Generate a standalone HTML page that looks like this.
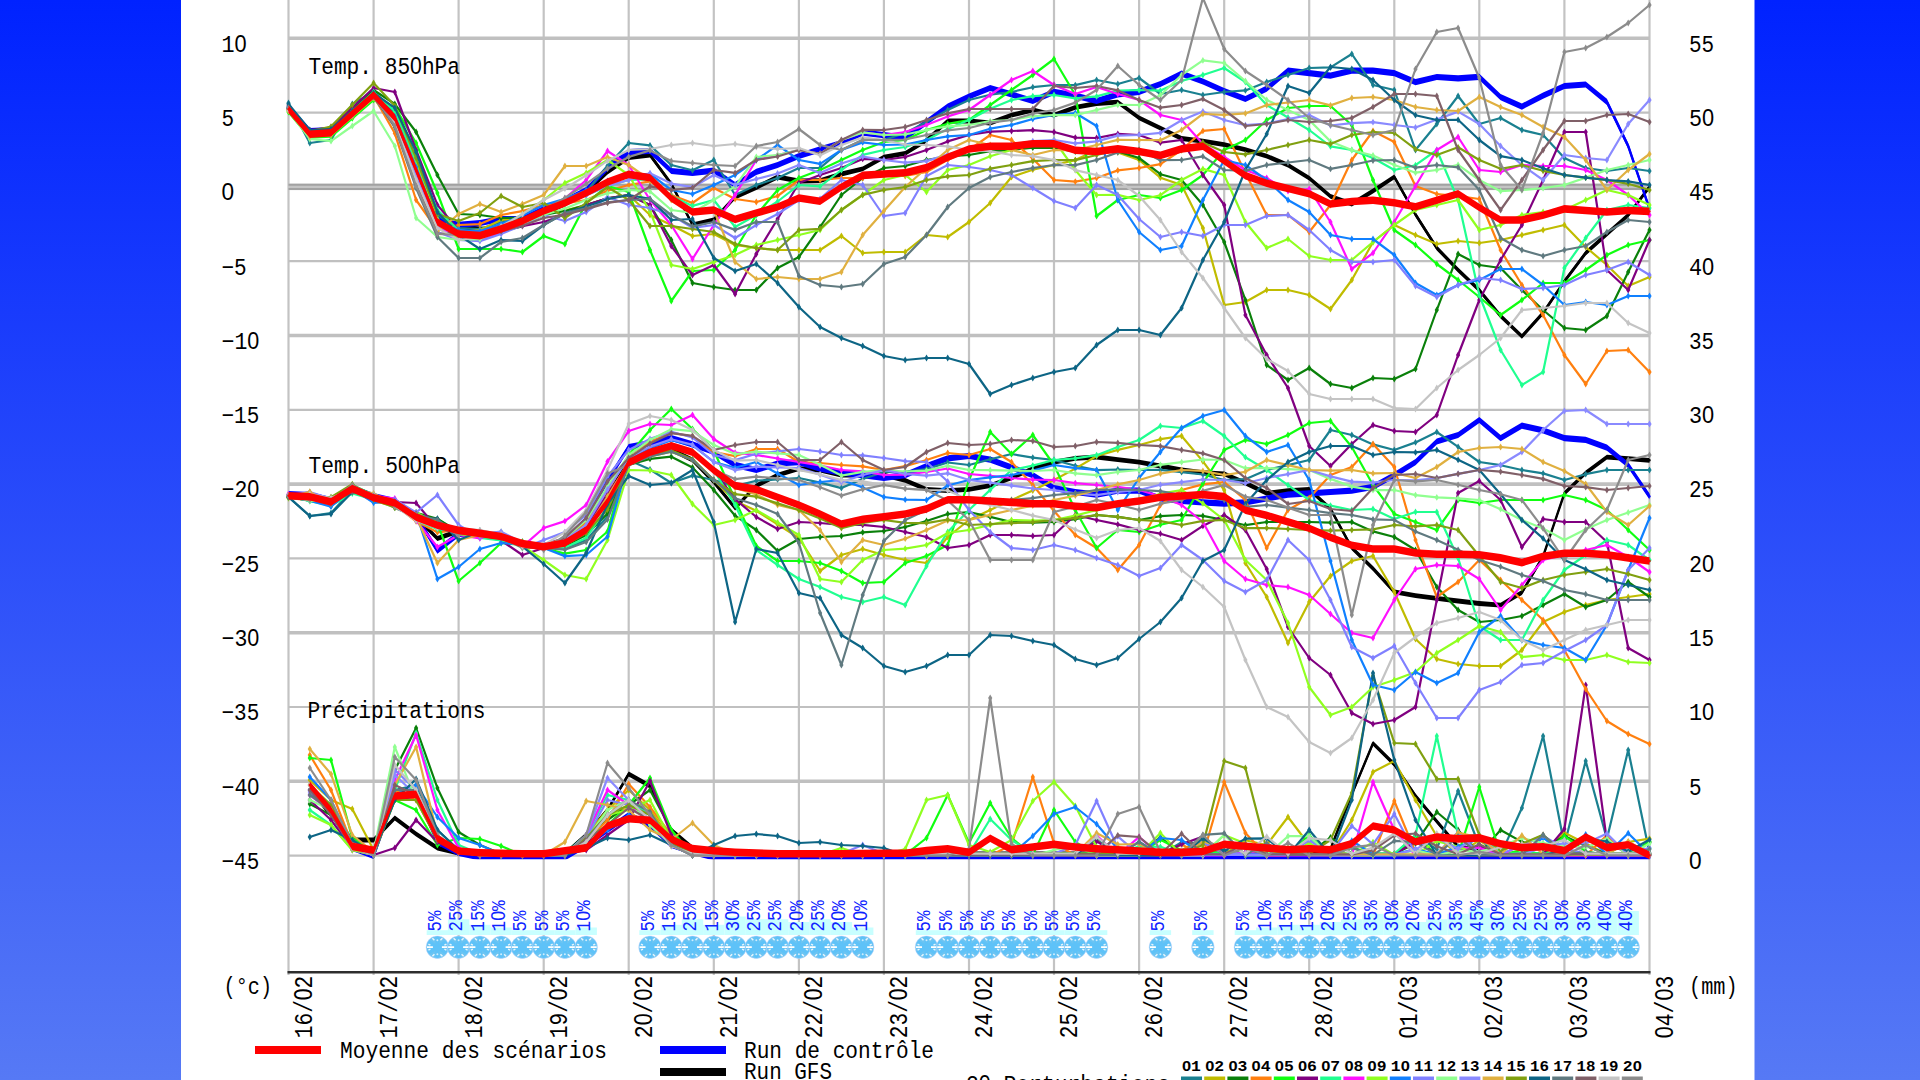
<!DOCTYPE html><html><head><meta charset="utf-8"><title>GFS ensemble</title><style>html,body{margin:0;padding:0;width:1920px;height:1080px;overflow:hidden;background:#2b4dfa}svg{position:absolute;left:0;top:0;display:block}text{font-family:'Liberation Mono','DejaVu Sans Mono',monospace;stroke:none}</style></head><body><svg width="1920" height="1080" viewBox="0 0 1920 1080"><defs><linearGradient id="bg" x1="0" y1="0" x2="0" y2="1"><stop offset="0" stop-color="#0022ff"/><stop offset="1" stop-color="#5679f5"/></linearGradient></defs><rect width="1920" height="1080" fill="url(#bg)"/><rect x="181" y="0" width="1573.5" height="1080" fill="#fff"/><g><line x1="288.5" y1="0" x2="288.5" y2="975" stroke="#c3c3c3" stroke-width="2.2"/><line x1="373.6" y1="0" x2="373.6" y2="975" stroke="#c3c3c3" stroke-width="2.2"/><line x1="458.6" y1="0" x2="458.6" y2="975" stroke="#c3c3c3" stroke-width="2.2"/><line x1="543.7" y1="0" x2="543.7" y2="975" stroke="#c3c3c3" stroke-width="2.2"/><line x1="628.7" y1="0" x2="628.7" y2="975" stroke="#c3c3c3" stroke-width="2.2"/><line x1="713.8" y1="0" x2="713.8" y2="975" stroke="#c3c3c3" stroke-width="2.2"/><line x1="798.9" y1="0" x2="798.9" y2="975" stroke="#c3c3c3" stroke-width="2.2"/><line x1="883.9" y1="0" x2="883.9" y2="975" stroke="#c3c3c3" stroke-width="2.2"/><line x1="969.0" y1="0" x2="969.0" y2="975" stroke="#c3c3c3" stroke-width="2.2"/><line x1="1054.0" y1="0" x2="1054.0" y2="975" stroke="#c3c3c3" stroke-width="2.2"/><line x1="1139.1" y1="0" x2="1139.1" y2="975" stroke="#c3c3c3" stroke-width="2.2"/><line x1="1224.2" y1="0" x2="1224.2" y2="975" stroke="#c3c3c3" stroke-width="2.2"/><line x1="1309.2" y1="0" x2="1309.2" y2="975" stroke="#c3c3c3" stroke-width="2.2"/><line x1="1394.3" y1="0" x2="1394.3" y2="975" stroke="#c3c3c3" stroke-width="2.2"/><line x1="1479.3" y1="0" x2="1479.3" y2="975" stroke="#c3c3c3" stroke-width="2.2"/><line x1="1564.4" y1="0" x2="1564.4" y2="975" stroke="#c3c3c3" stroke-width="2.2"/><line x1="1649.5" y1="0" x2="1649.5" y2="975" stroke="#c3c3c3" stroke-width="2.2"/><line x1="288.5" y1="38.3" x2="1649.5" y2="38.3" stroke="#c0c0c0" stroke-width="3.6"/><line x1="288.5" y1="112.6" x2="1649.5" y2="112.6" stroke="#c0c0c0" stroke-width="2.2"/><rect x="288.5" y="183.7" width="1361.0" height="6.4" fill="#c4c4c4"/><line x1="288.5" y1="184.8" x2="1649.5" y2="184.8" stroke="#a2a2a2" stroke-width="2"/><line x1="288.5" y1="189.0" x2="1649.5" y2="189.0" stroke="#a2a2a2" stroke-width="2"/><line x1="288.5" y1="261.2" x2="1649.5" y2="261.2" stroke="#c0c0c0" stroke-width="2.2"/><line x1="288.5" y1="335.5" x2="1649.5" y2="335.5" stroke="#c0c0c0" stroke-width="3.6"/><line x1="288.5" y1="409.8" x2="1649.5" y2="409.8" stroke="#c0c0c0" stroke-width="2.2"/><line x1="288.5" y1="484.1" x2="1649.5" y2="484.1" stroke="#c0c0c0" stroke-width="3.6"/><line x1="288.5" y1="558.4" x2="1649.5" y2="558.4" stroke="#c0c0c0" stroke-width="2.2"/><line x1="288.5" y1="632.7" x2="1649.5" y2="632.7" stroke="#c0c0c0" stroke-width="3.6"/><line x1="288.5" y1="707.0" x2="1649.5" y2="707.0" stroke="#c0c0c0" stroke-width="2.2"/><line x1="288.5" y1="781.3" x2="1649.5" y2="781.3" stroke="#c0c0c0" stroke-width="3.6"/><line x1="288.5" y1="855.6" x2="1649.5" y2="855.6" stroke="#c0c0c0" stroke-width="2.2"/></g><line x1="287.5" y1="972.3" x2="1650.5" y2="972.3" stroke="#2e2e2e" stroke-width="2.4"/><g><defs><g id="flk"><circle r="11.3" fill="#6cc4f2"/><path d="M0-11V11M-9.5-5.5L9.5 5.5M-9.5 5.5L9.5-5.5" stroke="#5ec2f8" stroke-width="4"/><path d="M-10.5 0H-4.5M4.5 0H10.5" stroke="#fff" stroke-width="1.8"/><path d="M-5-9l2 2M5-9l-2 2M-5 9l2-2M5 9l-2-2M-9-3l2 1M9-3l-2 1M-9 3l2-1M9 3l-2-1" stroke="#fff" stroke-width="1.5" opacity="0.85"/><circle cx="0" cy="-7" r="1" fill="#fff" opacity="0.7"/><circle cx="0" cy="7" r="1" fill="#fff" opacity="0.7"/><circle r="11.3" fill="none" stroke="#c8d8ff" stroke-width="0.8" opacity="0.6"/></g></defs><rect x="426.7" y="930.2" width="21.4" height="4.8" fill="#c8ffff"/><rect x="447.9" y="919.2" width="21.4" height="15.8" fill="#c8ffff"/><rect x="469.2" y="924.8" width="21.4" height="10.2" fill="#c8ffff"/><rect x="490.4" y="927.5" width="21.4" height="7.5" fill="#c8ffff"/><rect x="511.7" y="930.2" width="21.4" height="4.8" fill="#c8ffff"/><rect x="533.0" y="930.2" width="21.4" height="4.8" fill="#c8ffff"/><rect x="554.2" y="930.2" width="21.4" height="4.8" fill="#c8ffff"/><rect x="575.5" y="927.5" width="21.4" height="7.5" fill="#c8ffff"/><rect x="639.3" y="930.2" width="21.4" height="4.8" fill="#c8ffff"/><rect x="660.6" y="924.8" width="21.4" height="10.2" fill="#c8ffff"/><rect x="681.8" y="919.2" width="21.4" height="15.8" fill="#c8ffff"/><rect x="703.1" y="924.8" width="21.4" height="10.2" fill="#c8ffff"/><rect x="724.4" y="916.5" width="21.4" height="18.5" fill="#c8ffff"/><rect x="745.6" y="919.2" width="21.4" height="15.8" fill="#c8ffff"/><rect x="766.9" y="919.2" width="21.4" height="15.8" fill="#c8ffff"/><rect x="788.2" y="922.0" width="21.4" height="13.0" fill="#c8ffff"/><rect x="809.4" y="919.2" width="21.4" height="15.8" fill="#c8ffff"/><rect x="830.7" y="922.0" width="21.4" height="13.0" fill="#c8ffff"/><rect x="852.0" y="927.5" width="21.4" height="7.5" fill="#c8ffff"/><rect x="915.8" y="930.2" width="21.4" height="4.8" fill="#c8ffff"/><rect x="937.0" y="930.2" width="21.4" height="4.8" fill="#c8ffff"/><rect x="958.3" y="930.2" width="21.4" height="4.8" fill="#c8ffff"/><rect x="979.5" y="930.2" width="21.4" height="4.8" fill="#c8ffff"/><rect x="1000.8" y="930.2" width="21.4" height="4.8" fill="#c8ffff"/><rect x="1022.1" y="930.2" width="21.4" height="4.8" fill="#c8ffff"/><rect x="1043.3" y="930.2" width="21.4" height="4.8" fill="#c8ffff"/><rect x="1064.6" y="930.2" width="21.4" height="4.8" fill="#c8ffff"/><rect x="1085.9" y="930.2" width="21.4" height="4.8" fill="#c8ffff"/><rect x="1149.7" y="930.2" width="21.4" height="4.8" fill="#c8ffff"/><rect x="1192.2" y="930.2" width="21.4" height="4.8" fill="#c8ffff"/><rect x="1234.7" y="930.2" width="21.4" height="4.8" fill="#c8ffff"/><rect x="1256.0" y="927.5" width="21.4" height="7.5" fill="#c8ffff"/><rect x="1277.3" y="924.8" width="21.4" height="10.2" fill="#c8ffff"/><rect x="1298.5" y="924.8" width="21.4" height="10.2" fill="#c8ffff"/><rect x="1319.8" y="922.0" width="21.4" height="13.0" fill="#c8ffff"/><rect x="1341.0" y="919.2" width="21.4" height="15.8" fill="#c8ffff"/><rect x="1362.3" y="913.8" width="21.4" height="21.2" fill="#c8ffff"/><rect x="1383.6" y="916.5" width="21.4" height="18.5" fill="#c8ffff"/><rect x="1404.8" y="922.0" width="21.4" height="13.0" fill="#c8ffff"/><rect x="1426.1" y="919.2" width="21.4" height="15.8" fill="#c8ffff"/><rect x="1447.4" y="913.8" width="21.4" height="21.2" fill="#c8ffff"/><rect x="1468.6" y="908.2" width="21.4" height="26.8" fill="#c8ffff"/><rect x="1489.9" y="916.5" width="21.4" height="18.5" fill="#c8ffff"/><rect x="1511.2" y="919.2" width="21.4" height="15.8" fill="#c8ffff"/><rect x="1532.4" y="919.2" width="21.4" height="15.8" fill="#c8ffff"/><rect x="1553.7" y="916.5" width="21.4" height="18.5" fill="#c8ffff"/><rect x="1575.0" y="916.5" width="21.4" height="18.5" fill="#c8ffff"/><rect x="1596.2" y="911.0" width="21.4" height="24.0" fill="#c8ffff"/><rect x="1617.5" y="911.0" width="21.4" height="24.0" fill="#c8ffff"/><use href="#flk" x="437.4" y="947.2"/><use href="#flk" x="458.6" y="947.2"/><use href="#flk" x="479.9" y="947.2"/><use href="#flk" x="501.1" y="947.2"/><use href="#flk" x="522.4" y="947.2"/><use href="#flk" x="543.7" y="947.2"/><use href="#flk" x="564.9" y="947.2"/><use href="#flk" x="586.2" y="947.2"/><use href="#flk" x="650.0" y="947.2"/><use href="#flk" x="671.3" y="947.2"/><use href="#flk" x="692.5" y="947.2"/><use href="#flk" x="713.8" y="947.2"/><use href="#flk" x="735.1" y="947.2"/><use href="#flk" x="756.3" y="947.2"/><use href="#flk" x="777.6" y="947.2"/><use href="#flk" x="798.9" y="947.2"/><use href="#flk" x="820.1" y="947.2"/><use href="#flk" x="841.4" y="947.2"/><use href="#flk" x="862.7" y="947.2"/><use href="#flk" x="926.5" y="947.2"/><use href="#flk" x="947.7" y="947.2"/><use href="#flk" x="969.0" y="947.2"/><use href="#flk" x="990.2" y="947.2"/><use href="#flk" x="1011.5" y="947.2"/><use href="#flk" x="1032.8" y="947.2"/><use href="#flk" x="1054.0" y="947.2"/><use href="#flk" x="1075.3" y="947.2"/><use href="#flk" x="1096.6" y="947.2"/><use href="#flk" x="1160.4" y="947.2"/><use href="#flk" x="1202.9" y="947.2"/><use href="#flk" x="1245.4" y="947.2"/><use href="#flk" x="1266.7" y="947.2"/><use href="#flk" x="1288.0" y="947.2"/><use href="#flk" x="1309.2" y="947.2"/><use href="#flk" x="1330.5" y="947.2"/><use href="#flk" x="1351.8" y="947.2"/><use href="#flk" x="1373.0" y="947.2"/><use href="#flk" x="1394.3" y="947.2"/><use href="#flk" x="1415.5" y="947.2"/><use href="#flk" x="1436.8" y="947.2"/><use href="#flk" x="1458.1" y="947.2"/><use href="#flk" x="1479.3" y="947.2"/><use href="#flk" x="1500.6" y="947.2"/><use href="#flk" x="1521.9" y="947.2"/><use href="#flk" x="1543.1" y="947.2"/><use href="#flk" x="1564.4" y="947.2"/><use href="#flk" x="1585.7" y="947.2"/><use href="#flk" x="1606.9" y="947.2"/><use href="#flk" x="1628.2" y="947.2"/><text transform="translate(441.2,931.5) rotate(-90)" font-size="20" font-weight="normal" fill="#0f24ff" stroke="#0f24ff" stroke-width="0.5" textLength="20.8" lengthAdjust="spacingAndGlyphs">5%</text><text transform="translate(462.4,931.5) rotate(-90)" font-size="20" font-weight="normal" fill="#0f24ff" stroke="#0f24ff" stroke-width="0.5" textLength="31.2" lengthAdjust="spacingAndGlyphs">25%</text><text transform="translate(483.7,931.5) rotate(-90)" font-size="20" font-weight="normal" fill="#0f24ff" stroke="#0f24ff" stroke-width="0.5" textLength="31.2" lengthAdjust="spacingAndGlyphs">15%</text><text transform="translate(504.9,931.5) rotate(-90)" font-size="20" font-weight="normal" fill="#0f24ff" stroke="#0f24ff" stroke-width="0.5" textLength="31.2" lengthAdjust="spacingAndGlyphs">1<tspan font-family="Liberation Sans">0</tspan>%</text><text transform="translate(526.2,931.5) rotate(-90)" font-size="20" font-weight="normal" fill="#0f24ff" stroke="#0f24ff" stroke-width="0.5" textLength="20.8" lengthAdjust="spacingAndGlyphs">5%</text><text transform="translate(547.5,931.5) rotate(-90)" font-size="20" font-weight="normal" fill="#0f24ff" stroke="#0f24ff" stroke-width="0.5" textLength="20.8" lengthAdjust="spacingAndGlyphs">5%</text><text transform="translate(568.7,931.5) rotate(-90)" font-size="20" font-weight="normal" fill="#0f24ff" stroke="#0f24ff" stroke-width="0.5" textLength="20.8" lengthAdjust="spacingAndGlyphs">5%</text><text transform="translate(590.0,931.5) rotate(-90)" font-size="20" font-weight="normal" fill="#0f24ff" stroke="#0f24ff" stroke-width="0.5" textLength="31.2" lengthAdjust="spacingAndGlyphs">1<tspan font-family="Liberation Sans">0</tspan>%</text><text transform="translate(653.8,931.5) rotate(-90)" font-size="20" font-weight="normal" fill="#0f24ff" stroke="#0f24ff" stroke-width="0.5" textLength="20.8" lengthAdjust="spacingAndGlyphs">5%</text><text transform="translate(675.1,931.5) rotate(-90)" font-size="20" font-weight="normal" fill="#0f24ff" stroke="#0f24ff" stroke-width="0.5" textLength="31.2" lengthAdjust="spacingAndGlyphs">15%</text><text transform="translate(696.3,931.5) rotate(-90)" font-size="20" font-weight="normal" fill="#0f24ff" stroke="#0f24ff" stroke-width="0.5" textLength="31.2" lengthAdjust="spacingAndGlyphs">25%</text><text transform="translate(717.6,931.5) rotate(-90)" font-size="20" font-weight="normal" fill="#0f24ff" stroke="#0f24ff" stroke-width="0.5" textLength="31.2" lengthAdjust="spacingAndGlyphs">15%</text><text transform="translate(738.9,931.5) rotate(-90)" font-size="20" font-weight="normal" fill="#0f24ff" stroke="#0f24ff" stroke-width="0.5" textLength="31.2" lengthAdjust="spacingAndGlyphs">3<tspan font-family="Liberation Sans">0</tspan>%</text><text transform="translate(760.1,931.5) rotate(-90)" font-size="20" font-weight="normal" fill="#0f24ff" stroke="#0f24ff" stroke-width="0.5" textLength="31.2" lengthAdjust="spacingAndGlyphs">25%</text><text transform="translate(781.4,931.5) rotate(-90)" font-size="20" font-weight="normal" fill="#0f24ff" stroke="#0f24ff" stroke-width="0.5" textLength="31.2" lengthAdjust="spacingAndGlyphs">25%</text><text transform="translate(802.7,931.5) rotate(-90)" font-size="20" font-weight="normal" fill="#0f24ff" stroke="#0f24ff" stroke-width="0.5" textLength="31.2" lengthAdjust="spacingAndGlyphs">2<tspan font-family="Liberation Sans">0</tspan>%</text><text transform="translate(823.9,931.5) rotate(-90)" font-size="20" font-weight="normal" fill="#0f24ff" stroke="#0f24ff" stroke-width="0.5" textLength="31.2" lengthAdjust="spacingAndGlyphs">25%</text><text transform="translate(845.2,931.5) rotate(-90)" font-size="20" font-weight="normal" fill="#0f24ff" stroke="#0f24ff" stroke-width="0.5" textLength="31.2" lengthAdjust="spacingAndGlyphs">2<tspan font-family="Liberation Sans">0</tspan>%</text><text transform="translate(866.5,931.5) rotate(-90)" font-size="20" font-weight="normal" fill="#0f24ff" stroke="#0f24ff" stroke-width="0.5" textLength="31.2" lengthAdjust="spacingAndGlyphs">1<tspan font-family="Liberation Sans">0</tspan>%</text><text transform="translate(930.2,931.5) rotate(-90)" font-size="20" font-weight="normal" fill="#0f24ff" stroke="#0f24ff" stroke-width="0.5" textLength="20.8" lengthAdjust="spacingAndGlyphs">5%</text><text transform="translate(951.5,931.5) rotate(-90)" font-size="20" font-weight="normal" fill="#0f24ff" stroke="#0f24ff" stroke-width="0.5" textLength="20.8" lengthAdjust="spacingAndGlyphs">5%</text><text transform="translate(972.8,931.5) rotate(-90)" font-size="20" font-weight="normal" fill="#0f24ff" stroke="#0f24ff" stroke-width="0.5" textLength="20.8" lengthAdjust="spacingAndGlyphs">5%</text><text transform="translate(994.0,931.5) rotate(-90)" font-size="20" font-weight="normal" fill="#0f24ff" stroke="#0f24ff" stroke-width="0.5" textLength="20.8" lengthAdjust="spacingAndGlyphs">5%</text><text transform="translate(1015.3,931.5) rotate(-90)" font-size="20" font-weight="normal" fill="#0f24ff" stroke="#0f24ff" stroke-width="0.5" textLength="20.8" lengthAdjust="spacingAndGlyphs">5%</text><text transform="translate(1036.6,931.5) rotate(-90)" font-size="20" font-weight="normal" fill="#0f24ff" stroke="#0f24ff" stroke-width="0.5" textLength="20.8" lengthAdjust="spacingAndGlyphs">5%</text><text transform="translate(1057.8,931.5) rotate(-90)" font-size="20" font-weight="normal" fill="#0f24ff" stroke="#0f24ff" stroke-width="0.5" textLength="20.8" lengthAdjust="spacingAndGlyphs">5%</text><text transform="translate(1079.1,931.5) rotate(-90)" font-size="20" font-weight="normal" fill="#0f24ff" stroke="#0f24ff" stroke-width="0.5" textLength="20.8" lengthAdjust="spacingAndGlyphs">5%</text><text transform="translate(1100.4,931.5) rotate(-90)" font-size="20" font-weight="normal" fill="#0f24ff" stroke="#0f24ff" stroke-width="0.5" textLength="20.8" lengthAdjust="spacingAndGlyphs">5%</text><text transform="translate(1164.2,931.5) rotate(-90)" font-size="20" font-weight="normal" fill="#0f24ff" stroke="#0f24ff" stroke-width="0.5" textLength="20.8" lengthAdjust="spacingAndGlyphs">5%</text><text transform="translate(1206.7,931.5) rotate(-90)" font-size="20" font-weight="normal" fill="#0f24ff" stroke="#0f24ff" stroke-width="0.5" textLength="20.8" lengthAdjust="spacingAndGlyphs">5%</text><text transform="translate(1249.2,931.5) rotate(-90)" font-size="20" font-weight="normal" fill="#0f24ff" stroke="#0f24ff" stroke-width="0.5" textLength="20.8" lengthAdjust="spacingAndGlyphs">5%</text><text transform="translate(1270.5,931.5) rotate(-90)" font-size="20" font-weight="normal" fill="#0f24ff" stroke="#0f24ff" stroke-width="0.5" textLength="31.2" lengthAdjust="spacingAndGlyphs">1<tspan font-family="Liberation Sans">0</tspan>%</text><text transform="translate(1291.8,931.5) rotate(-90)" font-size="20" font-weight="normal" fill="#0f24ff" stroke="#0f24ff" stroke-width="0.5" textLength="31.2" lengthAdjust="spacingAndGlyphs">15%</text><text transform="translate(1313.0,931.5) rotate(-90)" font-size="20" font-weight="normal" fill="#0f24ff" stroke="#0f24ff" stroke-width="0.5" textLength="31.2" lengthAdjust="spacingAndGlyphs">15%</text><text transform="translate(1334.3,931.5) rotate(-90)" font-size="20" font-weight="normal" fill="#0f24ff" stroke="#0f24ff" stroke-width="0.5" textLength="31.2" lengthAdjust="spacingAndGlyphs">2<tspan font-family="Liberation Sans">0</tspan>%</text><text transform="translate(1355.5,931.5) rotate(-90)" font-size="20" font-weight="normal" fill="#0f24ff" stroke="#0f24ff" stroke-width="0.5" textLength="31.2" lengthAdjust="spacingAndGlyphs">25%</text><text transform="translate(1376.8,931.5) rotate(-90)" font-size="20" font-weight="normal" fill="#0f24ff" stroke="#0f24ff" stroke-width="0.5" textLength="31.2" lengthAdjust="spacingAndGlyphs">35%</text><text transform="translate(1398.1,931.5) rotate(-90)" font-size="20" font-weight="normal" fill="#0f24ff" stroke="#0f24ff" stroke-width="0.5" textLength="31.2" lengthAdjust="spacingAndGlyphs">3<tspan font-family="Liberation Sans">0</tspan>%</text><text transform="translate(1419.3,931.5) rotate(-90)" font-size="20" font-weight="normal" fill="#0f24ff" stroke="#0f24ff" stroke-width="0.5" textLength="31.2" lengthAdjust="spacingAndGlyphs">2<tspan font-family="Liberation Sans">0</tspan>%</text><text transform="translate(1440.6,931.5) rotate(-90)" font-size="20" font-weight="normal" fill="#0f24ff" stroke="#0f24ff" stroke-width="0.5" textLength="31.2" lengthAdjust="spacingAndGlyphs">25%</text><text transform="translate(1461.9,931.5) rotate(-90)" font-size="20" font-weight="normal" fill="#0f24ff" stroke="#0f24ff" stroke-width="0.5" textLength="31.2" lengthAdjust="spacingAndGlyphs">35%</text><text transform="translate(1483.1,931.5) rotate(-90)" font-size="20" font-weight="normal" fill="#0f24ff" stroke="#0f24ff" stroke-width="0.5" textLength="31.2" lengthAdjust="spacingAndGlyphs">45%</text><text transform="translate(1504.4,931.5) rotate(-90)" font-size="20" font-weight="normal" fill="#0f24ff" stroke="#0f24ff" stroke-width="0.5" textLength="31.2" lengthAdjust="spacingAndGlyphs">3<tspan font-family="Liberation Sans">0</tspan>%</text><text transform="translate(1525.7,931.5) rotate(-90)" font-size="20" font-weight="normal" fill="#0f24ff" stroke="#0f24ff" stroke-width="0.5" textLength="31.2" lengthAdjust="spacingAndGlyphs">25%</text><text transform="translate(1546.9,931.5) rotate(-90)" font-size="20" font-weight="normal" fill="#0f24ff" stroke="#0f24ff" stroke-width="0.5" textLength="31.2" lengthAdjust="spacingAndGlyphs">25%</text><text transform="translate(1568.2,931.5) rotate(-90)" font-size="20" font-weight="normal" fill="#0f24ff" stroke="#0f24ff" stroke-width="0.5" textLength="31.2" lengthAdjust="spacingAndGlyphs">3<tspan font-family="Liberation Sans">0</tspan>%</text><text transform="translate(1589.5,931.5) rotate(-90)" font-size="20" font-weight="normal" fill="#0f24ff" stroke="#0f24ff" stroke-width="0.5" textLength="31.2" lengthAdjust="spacingAndGlyphs">3<tspan font-family="Liberation Sans">0</tspan>%</text><text transform="translate(1610.7,931.5) rotate(-90)" font-size="20" font-weight="normal" fill="#0f24ff" stroke="#0f24ff" stroke-width="0.5" textLength="31.2" lengthAdjust="spacingAndGlyphs">4<tspan font-family="Liberation Sans">0</tspan>%</text><text transform="translate(1632.0,931.5) rotate(-90)" font-size="20" font-weight="normal" fill="#0f24ff" stroke="#0f24ff" stroke-width="0.5" textLength="31.2" lengthAdjust="spacingAndGlyphs">4<tspan font-family="Liberation Sans">0</tspan>%</text></g><g><text x="221.5" y="51.6" font-size="24" fill="#000" textLength="25.2" lengthAdjust="spacingAndGlyphs">1<tspan font-family="Liberation Sans">0</tspan></text><text x="221.5" y="125.9" font-size="24" fill="#000" textLength="12.6" lengthAdjust="spacingAndGlyphs">5</text><text x="221.5" y="200.2" font-size="24" fill="#000" textLength="12.6" lengthAdjust="spacingAndGlyphs"><tspan font-family="Liberation Sans">0</tspan></text><text x="221.5" y="274.5" font-size="24" fill="#000" textLength="25.2" lengthAdjust="spacingAndGlyphs">−5</text><text x="221.5" y="348.8" font-size="24" fill="#000" textLength="37.8" lengthAdjust="spacingAndGlyphs">−1<tspan font-family="Liberation Sans">0</tspan></text><text x="221.5" y="423.1" font-size="24" fill="#000" textLength="37.8" lengthAdjust="spacingAndGlyphs">−15</text><text x="221.5" y="497.4" font-size="24" fill="#000" textLength="37.8" lengthAdjust="spacingAndGlyphs">−2<tspan font-family="Liberation Sans">0</tspan></text><text x="221.5" y="571.7" font-size="24" fill="#000" textLength="37.8" lengthAdjust="spacingAndGlyphs">−25</text><text x="221.5" y="646.0" font-size="24" fill="#000" textLength="37.8" lengthAdjust="spacingAndGlyphs">−3<tspan font-family="Liberation Sans">0</tspan></text><text x="221.5" y="720.3" font-size="24" fill="#000" textLength="37.8" lengthAdjust="spacingAndGlyphs">−35</text><text x="221.5" y="794.6" font-size="24" fill="#000" textLength="37.8" lengthAdjust="spacingAndGlyphs">−4<tspan font-family="Liberation Sans">0</tspan></text><text x="221.5" y="868.9" font-size="24" fill="#000" textLength="37.8" lengthAdjust="spacingAndGlyphs">−45</text><text x="1689" y="51.6" font-size="24" fill="#000" textLength="25.2" lengthAdjust="spacingAndGlyphs">55</text><text x="1689" y="125.9" font-size="24" fill="#000" textLength="25.2" lengthAdjust="spacingAndGlyphs">5<tspan font-family="Liberation Sans">0</tspan></text><text x="1689" y="200.2" font-size="24" fill="#000" textLength="25.2" lengthAdjust="spacingAndGlyphs">45</text><text x="1689" y="274.5" font-size="24" fill="#000" textLength="25.2" lengthAdjust="spacingAndGlyphs">4<tspan font-family="Liberation Sans">0</tspan></text><text x="1689" y="348.8" font-size="24" fill="#000" textLength="25.2" lengthAdjust="spacingAndGlyphs">35</text><text x="1689" y="423.1" font-size="24" fill="#000" textLength="25.2" lengthAdjust="spacingAndGlyphs">3<tspan font-family="Liberation Sans">0</tspan></text><text x="1689" y="497.4" font-size="24" fill="#000" textLength="25.2" lengthAdjust="spacingAndGlyphs">25</text><text x="1689" y="571.7" font-size="24" fill="#000" textLength="25.2" lengthAdjust="spacingAndGlyphs">2<tspan font-family="Liberation Sans">0</tspan></text><text x="1689" y="646.0" font-size="24" fill="#000" textLength="25.2" lengthAdjust="spacingAndGlyphs">15</text><text x="1689" y="720.3" font-size="24" fill="#000" textLength="25.2" lengthAdjust="spacingAndGlyphs">1<tspan font-family="Liberation Sans">0</tspan></text><text x="1689" y="794.6" font-size="24" fill="#000" textLength="12.6" lengthAdjust="spacingAndGlyphs">5</text><text x="1689" y="868.9" font-size="24" fill="#000" textLength="12.6" lengthAdjust="spacingAndGlyphs"><tspan font-family="Liberation Sans">0</tspan></text><text x="223.5" y="994" font-size="24" fill="#000" textLength="48.5" lengthAdjust="spacingAndGlyphs">(°c)</text><text x="1689" y="994" font-size="24" fill="#000" textLength="48.5" lengthAdjust="spacingAndGlyphs">(mm)</text><text transform="translate(311.5,1038.2) rotate(-90)" font-size="26" fill="#000" textLength="62.5" lengthAdjust="spacingAndGlyphs">16/<tspan font-family="Liberation Sans">0</tspan>2</text><text transform="translate(396.6,1038.2) rotate(-90)" font-size="26" fill="#000" textLength="62.5" lengthAdjust="spacingAndGlyphs">17/<tspan font-family="Liberation Sans">0</tspan>2</text><text transform="translate(481.6,1038.2) rotate(-90)" font-size="26" fill="#000" textLength="62.5" lengthAdjust="spacingAndGlyphs">18/<tspan font-family="Liberation Sans">0</tspan>2</text><text transform="translate(566.7,1038.2) rotate(-90)" font-size="26" fill="#000" textLength="62.5" lengthAdjust="spacingAndGlyphs">19/<tspan font-family="Liberation Sans">0</tspan>2</text><text transform="translate(651.7,1038.2) rotate(-90)" font-size="26" fill="#000" textLength="62.5" lengthAdjust="spacingAndGlyphs">2<tspan font-family="Liberation Sans">0</tspan>/<tspan font-family="Liberation Sans">0</tspan>2</text><text transform="translate(736.8,1038.2) rotate(-90)" font-size="26" fill="#000" textLength="62.5" lengthAdjust="spacingAndGlyphs">21/<tspan font-family="Liberation Sans">0</tspan>2</text><text transform="translate(821.9,1038.2) rotate(-90)" font-size="26" fill="#000" textLength="62.5" lengthAdjust="spacingAndGlyphs">22/<tspan font-family="Liberation Sans">0</tspan>2</text><text transform="translate(906.9,1038.2) rotate(-90)" font-size="26" fill="#000" textLength="62.5" lengthAdjust="spacingAndGlyphs">23/<tspan font-family="Liberation Sans">0</tspan>2</text><text transform="translate(992.0,1038.2) rotate(-90)" font-size="26" fill="#000" textLength="62.5" lengthAdjust="spacingAndGlyphs">24/<tspan font-family="Liberation Sans">0</tspan>2</text><text transform="translate(1077.0,1038.2) rotate(-90)" font-size="26" fill="#000" textLength="62.5" lengthAdjust="spacingAndGlyphs">25/<tspan font-family="Liberation Sans">0</tspan>2</text><text transform="translate(1162.1,1038.2) rotate(-90)" font-size="26" fill="#000" textLength="62.5" lengthAdjust="spacingAndGlyphs">26/<tspan font-family="Liberation Sans">0</tspan>2</text><text transform="translate(1247.2,1038.2) rotate(-90)" font-size="26" fill="#000" textLength="62.5" lengthAdjust="spacingAndGlyphs">27/<tspan font-family="Liberation Sans">0</tspan>2</text><text transform="translate(1332.2,1038.2) rotate(-90)" font-size="26" fill="#000" textLength="62.5" lengthAdjust="spacingAndGlyphs">28/<tspan font-family="Liberation Sans">0</tspan>2</text><text transform="translate(1417.3,1038.2) rotate(-90)" font-size="26" fill="#000" textLength="62.5" lengthAdjust="spacingAndGlyphs"><tspan font-family="Liberation Sans">0</tspan>1/<tspan font-family="Liberation Sans">0</tspan>3</text><text transform="translate(1502.3,1038.2) rotate(-90)" font-size="26" fill="#000" textLength="62.5" lengthAdjust="spacingAndGlyphs"><tspan font-family="Liberation Sans">0</tspan>2/<tspan font-family="Liberation Sans">0</tspan>3</text><text transform="translate(1587.4,1038.2) rotate(-90)" font-size="26" fill="#000" textLength="62.5" lengthAdjust="spacingAndGlyphs"><tspan font-family="Liberation Sans">0</tspan>3/<tspan font-family="Liberation Sans">0</tspan>3</text><text transform="translate(1672.5,1038.2) rotate(-90)" font-size="26" fill="#000" textLength="62.5" lengthAdjust="spacingAndGlyphs"><tspan font-family="Liberation Sans">0</tspan>4/<tspan font-family="Liberation Sans">0</tspan>3</text><text x="308.5" y="73.9" font-size="24.5" fill="#000" textLength="151.5" lengthAdjust="spacingAndGlyphs">Temp. 85<tspan font-family="Liberation Sans">0</tspan>hPa</text><text x="308.5" y="473.4" font-size="24.5" fill="#000" textLength="151.5" lengthAdjust="spacingAndGlyphs">Temp. 5<tspan font-family="Liberation Sans">0</tspan><tspan font-family="Liberation Sans">0</tspan>hPa</text><text x="307.5" y="718" font-size="24" fill="#000" textLength="178" lengthAdjust="spacingAndGlyphs">Précipitations</text></g><defs><marker id="m1" markerUnits="userSpaceOnUse" markerWidth="8" markerHeight="8" refX="4" refY="4" overflow="visible"><path d="M4 0.6L6.1 4L4 7.4L1.9 4Z" fill="#1a8090"/></marker><marker id="m2" markerUnits="userSpaceOnUse" markerWidth="8" markerHeight="8" refX="4" refY="4" overflow="visible"><path d="M4 0.6L6.1 4L4 7.4L1.9 4Z" fill="#c0bc00"/></marker><marker id="m3" markerUnits="userSpaceOnUse" markerWidth="8" markerHeight="8" refX="4" refY="4" overflow="visible"><path d="M4 0.6L6.1 4L4 7.4L1.9 4Z" fill="#0a800a"/></marker><marker id="m4" markerUnits="userSpaceOnUse" markerWidth="8" markerHeight="8" refX="4" refY="4" overflow="visible"><path d="M4 0.6L6.1 4L4 7.4L1.9 4Z" fill="#ff8010"/></marker><marker id="m5" markerUnits="userSpaceOnUse" markerWidth="8" markerHeight="8" refX="4" refY="4" overflow="visible"><path d="M4 0.6L6.1 4L4 7.4L1.9 4Z" fill="#10ff10"/></marker><marker id="m6" markerUnits="userSpaceOnUse" markerWidth="8" markerHeight="8" refX="4" refY="4" overflow="visible"><path d="M4 0.6L6.1 4L4 7.4L1.9 4Z" fill="#800080"/></marker><marker id="m7" markerUnits="userSpaceOnUse" markerWidth="8" markerHeight="8" refX="4" refY="4" overflow="visible"><path d="M4 0.6L6.1 4L4 7.4L1.9 4Z" fill="#20ff90"/></marker><marker id="m8" markerUnits="userSpaceOnUse" markerWidth="8" markerHeight="8" refX="4" refY="4" overflow="visible"><path d="M4 0.6L6.1 4L4 7.4L1.9 4Z" fill="#ff10ff"/></marker><marker id="m9" markerUnits="userSpaceOnUse" markerWidth="8" markerHeight="8" refX="4" refY="4" overflow="visible"><path d="M4 0.6L6.1 4L4 7.4L1.9 4Z" fill="#90ff20"/></marker><marker id="m10" markerUnits="userSpaceOnUse" markerWidth="8" markerHeight="8" refX="4" refY="4" overflow="visible"><path d="M4 0.6L6.1 4L4 7.4L1.9 4Z" fill="#1080ff"/></marker><marker id="m11" markerUnits="userSpaceOnUse" markerWidth="8" markerHeight="8" refX="4" refY="4" overflow="visible"><path d="M4 0.6L6.1 4L4 7.4L1.9 4Z" fill="#8080ff"/></marker><marker id="m12" markerUnits="userSpaceOnUse" markerWidth="8" markerHeight="8" refX="4" refY="4" overflow="visible"><path d="M4 0.6L6.1 4L4 7.4L1.9 4Z" fill="#90ff90"/></marker><marker id="m13" markerUnits="userSpaceOnUse" markerWidth="8" markerHeight="8" refX="4" refY="4" overflow="visible"><path d="M4 0.6L6.1 4L4 7.4L1.9 4Z" fill="#8a8aff"/></marker><marker id="m14" markerUnits="userSpaceOnUse" markerWidth="8" markerHeight="8" refX="4" refY="4" overflow="visible"><path d="M4 0.6L6.1 4L4 7.4L1.9 4Z" fill="#e0b040"/></marker><marker id="m15" markerUnits="userSpaceOnUse" markerWidth="8" markerHeight="8" refX="4" refY="4" overflow="visible"><path d="M4 0.6L6.1 4L4 7.4L1.9 4Z" fill="#80a010"/></marker><marker id="m16" markerUnits="userSpaceOnUse" markerWidth="8" markerHeight="8" refX="4" refY="4" overflow="visible"><path d="M4 0.6L6.1 4L4 7.4L1.9 4Z" fill="#0d6585"/></marker><marker id="m17" markerUnits="userSpaceOnUse" markerWidth="8" markerHeight="8" refX="4" refY="4" overflow="visible"><path d="M4 0.6L6.1 4L4 7.4L1.9 4Z" fill="#607a80"/></marker><marker id="m18" markerUnits="userSpaceOnUse" markerWidth="8" markerHeight="8" refX="4" refY="4" overflow="visible"><path d="M4 0.6L6.1 4L4 7.4L1.9 4Z" fill="#806068"/></marker><marker id="m19" markerUnits="userSpaceOnUse" markerWidth="8" markerHeight="8" refX="4" refY="4" overflow="visible"><path d="M4 0.6L6.1 4L4 7.4L1.9 4Z" fill="#c4c4c4"/></marker><marker id="m20" markerUnits="userSpaceOnUse" markerWidth="8" markerHeight="8" refX="4" refY="4" overflow="visible"><path d="M4 0.6L6.1 4L4 7.4L1.9 4Z" fill="#8c8c8c"/></marker><clipPath id="cp3"><rect x="0" y="0" width="1920" height="859.2"/></clipPath></defs><g clip-path="url(#cp3)"><polygon points="309.8,787.6 331.0,812.6 352.3,837.6 373.6,837.6 394.8,815.6 416.1,831.6 437.4,845.6 458.6,850.6 479.9,851.6 501.1,851.6 522.4,851.6 543.7,851.6 564.9,851.6 586.2,832.6 607.5,807.6 628.7,771.6 650.0,783.6 671.3,827.6 692.5,845.6 713.8,850.6 735.1,851.6 756.3,851.6 777.6,851.6 798.9,851.6 820.1,851.6 841.4,851.6 862.7,851.6 883.9,851.6 905.2,851.6 926.5,851.6 947.7,851.6 969.0,851.6 990.2,851.6 1011.5,851.6 1032.8,851.6 1054.0,851.6 1075.3,851.6 1096.6,851.6 1117.8,851.6 1139.1,851.6 1160.4,851.6 1181.6,851.6 1202.9,851.6 1224.2,851.6 1245.4,851.6 1266.7,851.6 1288.0,851.6 1309.2,851.6 1330.5,846.6 1351.8,791.9 1373.0,740.9 1394.3,762.0 1415.5,793.6 1436.8,819.0 1458.1,844.3 1479.3,848.2 1500.6,852.6 1521.9,852.6 1543.1,852.6 1564.4,852.6 1585.7,852.6 1606.9,852.6 1628.2,852.6 1649.5,852.6 1649.5,857.4 1628.2,857.4 1606.9,857.4 1585.7,857.4 1564.4,857.4 1543.1,857.4 1521.9,857.4 1500.6,857.4 1479.3,853.0 1458.1,849.1 1436.8,823.8 1415.5,798.4 1394.3,766.8 1373.0,745.7 1351.8,796.7 1330.5,851.4 1309.2,856.4 1288.0,856.4 1266.7,856.4 1245.4,856.4 1224.2,856.4 1202.9,856.4 1181.6,856.4 1160.4,856.4 1139.1,856.4 1117.8,856.4 1096.6,856.4 1075.3,856.4 1054.0,856.4 1032.8,856.4 1011.5,856.4 990.2,856.4 969.0,856.4 947.7,856.4 926.5,856.4 905.2,856.4 883.9,856.4 862.7,856.4 841.4,856.4 820.1,856.4 798.9,856.4 777.6,856.4 756.3,856.4 735.1,856.4 713.8,855.4 692.5,850.4 671.3,832.4 650.0,788.4 628.7,776.4 607.5,812.4 586.2,837.4 564.9,856.4 543.7,856.4 522.4,856.4 501.1,856.4 479.9,856.4 458.6,855.4 437.4,850.4 416.1,836.4 394.8,820.4 373.6,842.4 352.3,842.4 331.0,817.4 309.8,792.4" fill="#000"/><polyline points="309.8,790.0 331.0,815.0 352.3,840.0 373.6,840.0 394.8,818.0 416.1,834.0 437.4,848.0 458.6,853.0 479.9,854.0 501.1,854.0 522.4,854.0 543.7,854.0 564.9,854.0 586.2,835.0 607.5,810.0 628.7,774.0 650.0,786.0 671.3,830.0 692.5,848.0 713.8,853.0 735.1,854.0 756.3,854.0 777.6,854.0 798.9,854.0 820.1,854.0 841.4,854.0 862.7,854.0 883.9,854.0 905.2,854.0 926.5,854.0 947.7,854.0 969.0,854.0 990.2,854.0 1011.5,854.0 1032.8,854.0 1054.0,854.0 1075.3,854.0 1096.6,854.0 1117.8,854.0 1139.1,854.0 1160.4,854.0 1181.6,854.0 1202.9,854.0 1224.2,854.0 1245.4,854.0 1266.7,854.0 1288.0,854.0 1309.2,854.0 1330.5,849.0 1351.8,794.3 1373.0,743.3 1394.3,764.4 1415.5,796.0 1436.8,821.4 1458.1,846.7 1479.3,850.6 1500.6,855.0 1521.9,855.0 1543.1,855.0 1564.4,855.0 1585.7,855.0 1606.9,855.0 1628.2,855.0 1649.5,855.0" fill="none" stroke="#000" stroke-width="2.4" stroke-linejoin="round" stroke-linecap="round"/><polygon points="309.8,786.9 331.0,808.9 352.3,844.9 373.6,852.9 394.8,793.9 416.1,791.9 437.4,838.9 458.6,849.9 479.9,854.3 501.1,854.3 522.4,854.3 543.7,854.3 564.9,854.3 586.2,841.9 607.5,826.9 628.7,811.9 650.0,821.9 671.3,841.9 692.5,848.9 713.8,854.3 735.1,854.3 756.3,854.3 777.6,854.3 798.9,854.3 820.1,854.3 841.4,854.3 862.7,854.3 883.9,854.3 905.2,854.3 926.5,854.3 947.7,854.3 969.0,854.3 990.2,854.3 1011.5,854.3 1032.8,854.3 1054.0,854.3 1075.3,854.3 1096.6,854.3 1117.8,854.3 1139.1,854.3 1160.4,854.3 1181.6,854.3 1202.9,854.3 1224.2,854.3 1245.4,854.3 1266.7,854.3 1288.0,854.3 1309.2,854.3 1330.5,854.3 1351.8,854.3 1373.0,854.3 1394.3,854.3 1415.5,854.3 1436.8,854.3 1458.1,854.3 1479.3,854.3 1500.6,854.3 1521.9,854.3 1543.1,854.3 1564.4,854.3 1585.7,854.3 1606.9,854.3 1628.2,854.3 1649.5,854.3 1649.5,860.5 1628.2,860.5 1606.9,860.5 1585.7,860.5 1564.4,860.5 1543.1,860.5 1521.9,860.5 1500.6,860.5 1479.3,860.5 1458.1,860.5 1436.8,860.5 1415.5,860.5 1394.3,860.5 1373.0,860.5 1351.8,860.5 1330.5,860.5 1309.2,860.5 1288.0,860.5 1266.7,860.5 1245.4,860.5 1224.2,860.5 1202.9,860.5 1181.6,860.5 1160.4,860.5 1139.1,860.5 1117.8,860.5 1096.6,860.5 1075.3,860.5 1054.0,860.5 1032.8,860.5 1011.5,860.5 990.2,860.5 969.0,860.5 947.7,860.5 926.5,860.5 905.2,860.5 883.9,860.5 862.7,860.5 841.4,860.5 820.1,860.5 798.9,860.5 777.6,860.5 756.3,860.5 735.1,860.5 713.8,860.5 692.5,855.1 671.3,848.1 650.0,828.1 628.7,818.1 607.5,833.1 586.2,848.1 564.9,860.5 543.7,860.5 522.4,860.5 501.1,860.5 479.9,860.5 458.6,856.1 437.4,845.1 416.1,798.1 394.8,800.1 373.6,859.1 352.3,851.1 331.0,815.1 309.8,793.1" fill="#0000ff"/><polyline points="309.8,790.0 331.0,812.0 352.3,848.0 373.6,856.0 394.8,797.0 416.1,795.0 437.4,842.0 458.6,853.0 479.9,857.4 501.1,857.4 522.4,857.4 543.7,857.4 564.9,857.4 586.2,845.0 607.5,830.0 628.7,815.0 650.0,825.0 671.3,845.0 692.5,852.0 713.8,857.4 735.1,857.4 756.3,857.4 777.6,857.4 798.9,857.4 820.1,857.4 841.4,857.4 862.7,857.4 883.9,857.4 905.2,857.4 926.5,857.4 947.7,857.4 969.0,857.4 990.2,857.4 1011.5,857.4 1032.8,857.4 1054.0,857.4 1075.3,857.4 1096.6,857.4 1117.8,857.4 1139.1,857.4 1160.4,857.4 1181.6,857.4 1202.9,857.4 1224.2,857.4 1245.4,857.4 1266.7,857.4 1288.0,857.4 1309.2,857.4 1330.5,857.4 1351.8,857.4 1373.0,857.4 1394.3,857.4 1415.5,857.4 1436.8,857.4 1458.1,857.4 1479.3,857.4 1500.6,857.4 1521.9,857.4 1543.1,857.4 1564.4,857.4 1585.7,857.4 1606.9,857.4 1628.2,857.4 1649.5,857.4" fill="none" stroke="#0000ff" stroke-width="2.4" stroke-linejoin="round" stroke-linecap="round"/></g><g><polygon points="288.5,105.6 309.8,129.6 331.0,128.6 352.3,109.6 373.6,89.6 394.8,111.6 416.1,162.6 437.4,215.6 458.6,224.6 479.9,226.6 501.1,227.6 522.4,222.6 543.7,210.6 564.9,201.6 586.2,189.6 607.5,169.6 628.7,155.1 650.0,152.6 671.3,181.5 692.5,222.4 713.8,217.6 735.1,194.6 756.3,185.1 777.6,174.6 798.9,178.6 820.1,178.2 841.4,171.6 862.7,166.5 883.9,154.8 905.2,150.9 926.5,138.0 947.7,118.6 969.0,118.6 990.2,120.6 1011.5,112.8 1032.8,107.6 1054.0,112.8 1075.3,105.0 1096.6,101.1 1117.8,99.8 1139.1,115.4 1160.4,125.8 1181.6,136.1 1202.9,138.7 1224.2,142.3 1245.4,147.2 1266.7,153.7 1288.0,162.8 1309.2,175.8 1330.5,193.9 1351.8,201.6 1373.0,188.6 1394.3,174.5 1415.5,212.1 1436.8,245.6 1458.1,267.6 1479.3,287.8 1500.6,313.6 1521.9,334.0 1543.1,310.4 1564.4,278.9 1585.7,250.6 1606.9,231.6 1628.2,212.8 1649.5,184.5 1649.5,189.3 1628.2,217.6 1606.9,236.4 1585.7,255.4 1564.4,283.7 1543.1,315.2 1521.9,338.8 1500.6,318.4 1479.3,292.6 1458.1,272.4 1436.8,250.4 1415.5,216.9 1394.3,179.3 1373.0,193.4 1351.8,206.4 1330.5,198.7 1309.2,180.6 1288.0,167.6 1266.7,158.5 1245.4,152.0 1224.2,147.1 1202.9,143.5 1181.6,140.9 1160.4,130.6 1139.1,120.2 1117.8,104.6 1096.6,105.9 1075.3,109.8 1054.0,117.6 1032.8,112.4 1011.5,117.6 990.2,125.4 969.0,123.4 947.7,123.4 926.5,142.8 905.2,155.7 883.9,159.6 862.7,171.3 841.4,176.4 820.1,183.0 798.9,183.4 777.6,179.4 756.3,189.9 735.1,199.4 713.8,222.4 692.5,227.2 671.3,186.3 650.0,157.4 628.7,159.9 607.5,174.4 586.2,194.4 564.9,206.4 543.7,215.4 522.4,227.4 501.1,232.4 479.9,231.4 458.6,229.4 437.4,220.4 416.1,167.4 394.8,116.4 373.6,94.4 352.3,114.4 331.0,133.4 309.8,134.4 288.5,110.4" fill="#000"/><polyline points="288.5,108.0 309.8,132.0 331.0,131.0 352.3,112.0 373.6,92.0 394.8,114.0 416.1,165.0 437.4,218.0 458.6,227.0 479.9,229.0 501.1,230.0 522.4,225.0 543.7,213.0 564.9,204.0 586.2,192.0 607.5,172.0 628.7,157.5 650.0,155.0 671.3,183.9 692.5,224.8 713.8,220.0 735.1,197.0 756.3,187.5 777.6,177.0 798.9,181.0 820.1,180.6 841.4,174.0 862.7,168.9 883.9,157.2 905.2,153.3 926.5,140.4 947.7,121.0 969.0,121.0 990.2,123.0 1011.5,115.2 1032.8,110.0 1054.0,115.2 1075.3,107.4 1096.6,103.5 1117.8,102.2 1139.1,117.8 1160.4,128.2 1181.6,138.5 1202.9,141.1 1224.2,144.7 1245.4,149.6 1266.7,156.1 1288.0,165.2 1309.2,178.2 1330.5,196.3 1351.8,204.0 1373.0,191.0 1394.3,176.9 1415.5,214.5 1436.8,248.0 1458.1,270.0 1479.3,290.2 1500.6,316.0 1521.9,336.4 1543.1,312.8 1564.4,281.3 1585.7,253.0 1606.9,234.0 1628.2,215.2 1649.5,186.9" fill="none" stroke="#000" stroke-width="2.4" stroke-linejoin="round" stroke-linecap="round"/><polygon points="288.5,103.9 309.8,127.9 331.0,126.9 352.3,107.9 373.6,89.9 394.8,112.9 416.1,164.9 437.4,216.9 458.6,221.7 479.9,219.9 501.1,215.9 522.4,215.9 543.7,205.9 564.9,197.9 586.2,186.9 607.5,164.9 628.7,148.9 650.0,147.9 671.3,167.9 692.5,169.9 713.8,167.5 735.1,181.9 756.3,168.7 777.6,161.9 798.9,152.9 820.1,146.3 841.4,139.9 862.7,129.5 883.9,132.1 905.2,134.7 926.5,119.1 947.7,103.6 969.0,93.4 990.2,84.9 1011.5,91.3 1032.8,97.9 1054.0,88.8 1075.3,92.6 1096.6,97.9 1117.8,91.3 1139.1,88.8 1160.4,80.9 1181.6,70.6 1202.9,78.4 1224.2,87.9 1245.4,95.9 1266.7,85.6 1288.0,67.5 1309.2,70.0 1330.5,72.6 1351.8,67.5 1373.0,67.5 1394.3,70.0 1415.5,79.1 1436.8,73.9 1458.1,75.2 1479.3,73.7 1500.6,94.0 1521.9,103.5 1543.1,92.5 1564.4,82.9 1585.7,81.4 1606.9,98.8 1628.2,142.9 1649.5,205.8 1649.5,212.0 1628.2,149.1 1606.9,105.0 1585.7,87.6 1564.4,89.1 1543.1,98.7 1521.9,109.7 1500.6,100.2 1479.3,79.9 1458.1,81.4 1436.8,80.1 1415.5,85.3 1394.3,76.2 1373.0,73.7 1351.8,73.7 1330.5,78.8 1309.2,76.2 1288.0,73.7 1266.7,91.8 1245.4,102.1 1224.2,94.1 1202.9,84.6 1181.6,76.8 1160.4,87.1 1139.1,95.0 1117.8,97.5 1096.6,104.1 1075.3,98.8 1054.0,95.0 1032.8,104.1 1011.5,97.5 990.2,91.1 969.0,99.6 947.7,109.8 926.5,125.3 905.2,140.9 883.9,138.3 862.7,135.7 841.4,146.1 820.1,152.5 798.9,159.1 777.6,168.1 756.3,174.9 735.1,188.1 713.8,173.7 692.5,176.1 671.3,174.1 650.0,154.1 628.7,155.1 607.5,171.1 586.2,193.1 564.9,204.1 543.7,212.1 522.4,222.1 501.1,222.1 479.9,226.1 458.6,227.9 437.4,223.1 416.1,171.1 394.8,119.1 373.6,96.1 352.3,114.1 331.0,133.1 309.8,134.1 288.5,110.1" fill="#0000ff"/><polyline points="288.5,107.0 309.8,131.0 331.0,130.0 352.3,111.0 373.6,93.0 394.8,116.0 416.1,168.0 437.4,220.0 458.6,224.8 479.9,223.0 501.1,219.0 522.4,219.0 543.7,209.0 564.9,201.0 586.2,190.0 607.5,168.0 628.7,152.0 650.0,151.0 671.3,171.0 692.5,173.0 713.8,170.6 735.1,185.0 756.3,171.8 777.6,165.0 798.9,156.0 820.1,149.4 841.4,143.0 862.7,132.6 883.9,135.2 905.2,137.8 926.5,122.2 947.7,106.7 969.0,96.5 990.2,88.0 1011.5,94.4 1032.8,101.0 1054.0,91.9 1075.3,95.7 1096.6,101.0 1117.8,94.4 1139.1,91.9 1160.4,84.0 1181.6,73.7 1202.9,81.5 1224.2,91.0 1245.4,99.0 1266.7,88.7 1288.0,70.6 1309.2,73.1 1330.5,75.7 1351.8,70.6 1373.0,70.6 1394.3,73.1 1415.5,82.2 1436.8,77.0 1458.1,78.3 1479.3,76.8 1500.6,97.1 1521.9,106.6 1543.1,95.6 1564.4,86.0 1585.7,84.5 1606.9,101.9 1628.2,146.0 1649.5,208.9" fill="none" stroke="#0000ff" stroke-width="2.4" stroke-linejoin="round" stroke-linecap="round"/><polygon points="288.5,493.6 309.8,494.6 331.0,499.6 352.3,486.6 373.6,495.6 394.8,500.6 416.1,514.6 437.4,536.1 458.6,528.6 479.9,531.6 501.1,534.6 522.4,541.6 543.7,544.6 564.9,540.6 586.2,525.6 607.5,494.6 628.7,455.0 650.0,451.1 671.3,447.2 692.5,457.6 713.8,479.6 735.1,505.6 756.3,483.2 777.6,472.8 798.9,466.3 820.1,467.6 841.4,472.8 862.7,472.8 883.9,472.8 905.2,478.0 926.5,487.0 947.7,488.3 969.0,487.0 990.2,483.2 1011.5,475.4 1032.8,466.3 1054.0,459.8 1075.3,455.9 1096.6,454.6 1117.8,457.2 1139.1,459.8 1160.4,463.6 1181.6,467.6 1202.9,470.2 1224.2,471.5 1245.4,480.6 1266.7,490.9 1288.0,488.3 1309.2,487.0 1330.5,506.5 1351.8,545.4 1373.0,566.1 1394.3,589.5 1415.5,593.3 1436.8,595.9 1458.1,598.6 1479.3,601.1 1500.6,602.7 1521.9,590.1 1543.1,553.9 1564.4,490.9 1585.7,470.5 1606.9,454.7 1628.2,456.3 1649.5,457.9 1649.5,462.7 1628.2,461.1 1606.9,459.5 1585.7,475.3 1564.4,495.7 1543.1,558.7 1521.9,594.9 1500.6,607.5 1479.3,605.9 1458.1,603.4 1436.8,600.7 1415.5,598.1 1394.3,594.3 1373.0,570.9 1351.8,550.2 1330.5,511.3 1309.2,491.8 1288.0,493.1 1266.7,495.7 1245.4,485.4 1224.2,476.3 1202.9,475.0 1181.6,472.4 1160.4,468.4 1139.1,464.6 1117.8,462.0 1096.6,459.4 1075.3,460.7 1054.0,464.6 1032.8,471.1 1011.5,480.2 990.2,488.0 969.0,491.8 947.7,493.1 926.5,491.8 905.2,482.8 883.9,477.6 862.7,477.6 841.4,477.6 820.1,472.4 798.9,471.1 777.6,477.6 756.3,488.0 735.1,510.4 713.8,484.4 692.5,462.4 671.3,452.0 650.0,455.9 628.7,459.8 607.5,499.4 586.2,530.4 564.9,545.4 543.7,549.4 522.4,546.4 501.1,539.4 479.9,536.4 458.6,533.4 437.4,540.9 416.1,519.4 394.8,505.4 373.6,500.4 352.3,491.4 331.0,504.4 309.8,499.4 288.5,498.4" fill="#000"/><polyline points="288.5,496.0 309.8,497.0 331.0,502.0 352.3,489.0 373.6,498.0 394.8,503.0 416.1,517.0 437.4,538.5 458.6,531.0 479.9,534.0 501.1,537.0 522.4,544.0 543.7,547.0 564.9,543.0 586.2,528.0 607.5,497.0 628.7,457.4 650.0,453.5 671.3,449.6 692.5,460.0 713.8,482.0 735.1,508.0 756.3,485.6 777.6,475.2 798.9,468.7 820.1,470.0 841.4,475.2 862.7,475.2 883.9,475.2 905.2,480.4 926.5,489.4 947.7,490.7 969.0,489.4 990.2,485.6 1011.5,477.8 1032.8,468.7 1054.0,462.2 1075.3,458.3 1096.6,457.0 1117.8,459.6 1139.1,462.2 1160.4,466.0 1181.6,470.0 1202.9,472.6 1224.2,473.9 1245.4,483.0 1266.7,493.3 1288.0,490.7 1309.2,489.4 1330.5,508.9 1351.8,547.8 1373.0,568.5 1394.3,591.9 1415.5,595.7 1436.8,598.3 1458.1,601.0 1479.3,603.5 1500.6,605.1 1521.9,592.5 1543.1,556.3 1564.4,493.3 1585.7,472.9 1606.9,457.1 1628.2,458.7 1649.5,460.3" fill="none" stroke="#000" stroke-width="2.4" stroke-linejoin="round" stroke-linecap="round"/><polygon points="288.5,490.9 309.8,491.9 331.0,496.9 352.3,484.9 373.6,492.9 394.8,497.9 416.1,512.9 437.4,547.6 458.6,530.9 479.9,531.9 501.1,534.9 522.4,540.9 543.7,542.9 564.9,537.3 586.2,516.5 607.5,477.6 628.7,443.9 650.0,440.1 671.3,434.9 692.5,441.3 713.8,448.9 735.1,461.7 756.3,466.9 777.6,460.4 798.9,459.1 820.1,465.6 841.4,469.5 862.7,472.1 883.9,474.7 905.2,472.1 926.5,462.9 947.7,455.2 969.0,452.9 990.2,456.5 1011.5,464.3 1032.8,472.1 1054.0,484.9 1075.3,488.9 1096.6,491.5 1117.8,487.6 1139.1,487.6 1160.4,495.4 1181.6,497.9 1202.9,499.3 1224.2,500.6 1245.4,499.3 1266.7,495.4 1288.0,491.5 1309.2,490.2 1330.5,488.9 1351.8,487.6 1373.0,483.8 1394.3,472.1 1415.5,459.1 1436.8,438.4 1458.1,431.9 1479.3,416.9 1500.6,435.1 1521.9,422.6 1543.1,427.3 1564.4,435.1 1585.7,436.7 1606.9,444.6 1628.2,461.9 1649.5,493.4 1649.5,499.6 1628.2,468.1 1606.9,450.8 1585.7,442.9 1564.4,441.3 1543.1,433.5 1521.9,428.8 1500.6,441.3 1479.3,423.1 1458.1,438.1 1436.8,444.6 1415.5,465.3 1394.3,478.3 1373.0,490.0 1351.8,493.8 1330.5,495.1 1309.2,496.4 1288.0,497.7 1266.7,501.6 1245.4,505.5 1224.2,506.8 1202.9,505.5 1181.6,504.1 1160.4,501.6 1139.1,493.8 1117.8,493.8 1096.6,497.7 1075.3,495.1 1054.0,491.1 1032.8,478.3 1011.5,470.5 990.2,462.7 969.0,459.1 947.7,461.4 926.5,469.1 905.2,478.3 883.9,480.9 862.7,478.3 841.4,475.7 820.1,471.8 798.9,465.3 777.6,466.6 756.3,473.1 735.1,467.9 713.8,455.1 692.5,447.5 671.3,441.1 650.0,446.3 628.7,450.1 607.5,483.8 586.2,522.7 564.9,543.5 543.7,549.1 522.4,547.1 501.1,541.1 479.9,538.1 458.6,537.1 437.4,553.8 416.1,519.1 394.8,504.1 373.6,499.1 352.3,491.1 331.0,503.1 309.8,498.1 288.5,497.1" fill="#0000ff"/><polyline points="288.5,494.0 309.8,495.0 331.0,500.0 352.3,488.0 373.6,496.0 394.8,501.0 416.1,516.0 437.4,550.7 458.6,534.0 479.9,535.0 501.1,538.0 522.4,544.0 543.7,546.0 564.9,540.4 586.2,519.6 607.5,480.7 628.7,447.0 650.0,443.2 671.3,438.0 692.5,444.4 713.8,452.0 735.1,464.8 756.3,470.0 777.6,463.5 798.9,462.2 820.1,468.7 841.4,472.6 862.7,475.2 883.9,477.8 905.2,475.2 926.5,466.0 947.7,458.3 969.0,456.0 990.2,459.6 1011.5,467.4 1032.8,475.2 1054.0,488.0 1075.3,492.0 1096.6,494.6 1117.8,490.7 1139.1,490.7 1160.4,498.5 1181.6,501.0 1202.9,502.4 1224.2,503.7 1245.4,502.4 1266.7,498.5 1288.0,494.6 1309.2,493.3 1330.5,492.0 1351.8,490.7 1373.0,486.9 1394.3,475.2 1415.5,462.2 1436.8,441.5 1458.1,435.0 1479.3,420.0 1500.6,438.2 1521.9,425.7 1543.1,430.4 1564.4,438.2 1585.7,439.8 1606.9,447.7 1628.2,465.0 1649.5,496.5" fill="none" stroke="#0000ff" stroke-width="2.4" stroke-linejoin="round" stroke-linecap="round"/></g><g><polyline points="309.8,790.0 331.0,805.0 352.3,840.0 373.6,850.0 394.8,790.0 416.1,785.0 437.4,830.0 458.6,850.0 479.9,854.9 501.1,854.9 522.4,854.9 543.7,854.9 564.9,854.9 586.2,840.0 607.5,815.0 628.7,800.0 650.0,815.0 671.3,845.0 692.5,854.9 713.8,854.9 735.1,854.9 756.3,854.9 777.6,854.9 798.9,854.9 820.1,854.9 841.4,854.9 862.7,854.9 883.9,854.9 905.2,854.9 926.5,854.9 947.7,854.9 969.0,854.9 990.2,854.9 1011.5,854.9 1032.8,854.9 1054.0,854.9 1075.3,854.9 1096.6,849.0 1117.8,854.9 1139.1,841.7 1160.4,854.9 1181.6,842.3 1202.9,843.7 1224.2,850.2 1245.4,854.9 1266.7,854.9 1288.0,847.7 1309.2,854.9 1330.5,854.9 1351.8,854.9 1373.0,854.9 1394.3,854.9 1415.5,835.6 1436.8,849.2 1458.1,791.0 1479.3,846.0 1500.6,854.9 1521.9,808.0 1543.1,736.0 1564.4,845.0 1585.7,761.0 1606.9,839.0 1628.2,750.0 1649.5,853.0" fill="none" stroke="#1a8090" stroke-width="2.2" stroke-linejoin="round" marker-start="url(#m1)" marker-mid="url(#m1)" marker-end="url(#m1)"/><polyline points="309.8,780.0 331.0,800.0 352.3,809.0 373.6,850.0 394.8,800.0 416.1,790.0 437.4,835.0 458.6,852.0 479.9,854.3 501.1,854.3 522.4,854.3 543.7,854.3 564.9,854.3 586.2,835.0 607.5,810.0 628.7,790.0 650.0,810.0 671.3,840.0 692.5,854.3 713.8,854.3 735.1,854.3 756.3,854.3 777.6,854.3 798.9,854.3 820.1,854.3 841.4,854.3 862.7,854.3 883.9,854.3 905.2,854.3 926.5,854.3 947.7,854.3 969.0,854.3 990.2,854.3 1011.5,854.3 1032.8,854.3 1054.0,854.3 1075.3,854.3 1096.6,840.2 1117.8,854.3 1139.1,854.3 1160.4,854.3 1181.6,850.2 1202.9,838.4 1224.2,854.3 1245.4,840.2 1266.7,845.0 1288.0,817.0 1309.2,845.0 1330.5,854.3 1351.8,820.0 1373.0,772.0 1394.3,761.0 1415.5,800.0 1436.8,836.2 1458.1,854.3 1479.3,840.4 1500.6,854.3 1521.9,854.3 1543.1,854.3 1564.4,832.7 1585.7,843.4 1606.9,854.3 1628.2,842.0 1649.5,838.6" fill="none" stroke="#c0bc00" stroke-width="2.2" stroke-linejoin="round" marker-start="url(#m2)" marker-mid="url(#m2)" marker-end="url(#m2)"/><polyline points="309.8,804.0 331.0,815.0 352.3,845.0 373.6,852.0 394.8,770.0 416.1,728.0 437.4,788.0 458.6,832.0 479.9,845.0 501.1,853.7 522.4,853.7 543.7,853.7 564.9,853.7 586.2,838.0 607.5,820.0 628.7,805.0 650.0,790.0 671.3,830.0 692.5,853.7 713.8,853.7 735.1,853.7 756.3,853.7 777.6,853.7 798.9,853.7 820.1,853.7 841.4,853.7 862.7,853.7 883.9,853.7 905.2,853.7 926.5,853.7 947.7,853.7 969.0,853.7 990.2,853.7 1011.5,853.7 1032.8,853.7 1054.0,853.7 1075.3,853.7 1096.6,853.7 1117.8,853.7 1139.1,853.7 1160.4,837.5 1181.6,853.7 1202.9,853.7 1224.2,853.7 1245.4,853.7 1266.7,853.7 1288.0,853.7 1309.2,853.7 1330.5,837.4 1351.8,853.7 1373.0,853.7 1394.3,853.7 1415.5,843.4 1436.8,812.0 1458.1,830.0 1479.3,853.7 1500.6,830.0 1521.9,841.9 1543.1,848.5 1564.4,836.1 1585.7,846.0 1606.9,853.7 1628.2,853.7 1649.5,842.2" fill="none" stroke="#0a800a" stroke-width="2.2" stroke-linejoin="round" marker-start="url(#m3)" marker-mid="url(#m3)" marker-end="url(#m3)"/><polyline points="309.8,755.0 331.0,790.0 352.3,845.0 373.6,852.0 394.8,790.0 416.1,800.0 437.4,840.0 458.6,852.0 479.9,855.5 501.1,855.5 522.4,855.5 543.7,855.5 564.9,855.5 586.2,842.0 607.5,820.0 628.7,784.0 650.0,807.0 671.3,835.0 692.5,855.5 713.8,855.5 735.1,855.5 756.3,855.5 777.6,855.5 798.9,855.5 820.1,855.5 841.4,855.5 862.7,855.5 883.9,855.5 905.2,855.5 926.5,855.5 947.7,855.5 969.0,855.5 990.2,855.5 1011.5,845.0 1032.8,777.0 1054.0,843.0 1075.3,855.5 1096.6,855.5 1117.8,855.5 1139.1,855.5 1160.4,855.5 1181.6,844.6 1202.9,855.5 1224.2,782.0 1245.4,833.0 1266.7,855.5 1288.0,855.5 1309.2,849.2 1330.5,848.1 1351.8,855.5 1373.0,855.5 1394.3,801.0 1415.5,852.4 1436.8,855.5 1458.1,855.5 1479.3,855.5 1500.6,855.5 1521.9,855.5 1543.1,855.5 1564.4,855.5 1585.7,855.5 1606.9,835.4 1628.2,855.5 1649.5,855.5" fill="none" stroke="#ff8010" stroke-width="2.2" stroke-linejoin="round" marker-start="url(#m4)" marker-mid="url(#m4)" marker-end="url(#m4)"/><polyline points="309.8,758.0 331.0,760.0 352.3,838.0 373.6,852.0 394.8,800.0 416.1,810.0 437.4,845.0 458.6,838.0 479.9,839.0 501.1,846.0 522.4,854.9 543.7,854.9 564.9,854.9 586.2,840.0 607.5,825.0 628.7,805.0 650.0,778.0 671.3,830.0 692.5,854.9 713.8,854.9 735.1,854.9 756.3,854.9 777.6,854.9 798.9,854.9 820.1,854.9 841.4,854.9 862.7,854.9 883.9,854.9 905.2,854.9 926.5,838.0 947.7,795.0 969.0,843.0 990.2,803.0 1011.5,838.0 1032.8,854.9 1054.0,810.0 1075.3,842.0 1096.6,854.9 1117.8,854.9 1139.1,854.9 1160.4,839.8 1181.6,850.6 1202.9,848.8 1224.2,854.9 1245.4,851.9 1266.7,850.0 1288.0,854.9 1309.2,835.3 1330.5,854.9 1351.8,847.1 1373.0,854.9 1394.3,854.9 1415.5,835.8 1436.8,854.9 1458.1,854.9 1479.3,787.0 1500.6,854.9 1521.9,850.0 1543.1,854.9 1564.4,836.2 1585.7,851.5 1606.9,854.9 1628.2,854.9 1649.5,841.6" fill="none" stroke="#10ff10" stroke-width="2.2" stroke-linejoin="round" marker-start="url(#m5)" marker-mid="url(#m5)" marker-end="url(#m5)"/><polyline points="309.8,800.0 331.0,820.0 352.3,848.0 373.6,855.0 394.8,848.0 416.1,820.0 437.4,842.0 458.6,853.0 479.9,854.3 501.1,854.3 522.4,854.3 543.7,854.3 564.9,854.3 586.2,850.0 607.5,835.0 628.7,820.0 650.0,781.0 671.3,835.0 692.5,854.3 713.8,854.3 735.1,854.3 756.3,854.3 777.6,854.3 798.9,854.3 820.1,854.3 841.4,854.3 862.7,854.3 883.9,854.3 905.2,854.3 926.5,854.3 947.7,854.3 969.0,854.3 990.2,854.3 1011.5,854.3 1032.8,854.3 1054.0,854.3 1075.3,854.3 1096.6,841.3 1117.8,854.3 1139.1,854.3 1160.4,854.3 1181.6,844.3 1202.9,836.6 1224.2,854.3 1245.4,854.3 1266.7,847.1 1288.0,854.3 1309.2,854.3 1330.5,854.3 1351.8,854.3 1373.0,854.3 1394.3,854.3 1415.5,841.5 1436.8,854.3 1458.1,850.8 1479.3,846.4 1500.6,854.3 1521.9,854.3 1543.1,854.3 1564.4,829.0 1585.7,685.0 1606.9,841.0 1628.2,854.3 1649.5,854.3" fill="none" stroke="#800080" stroke-width="2.2" stroke-linejoin="round" marker-start="url(#m6)" marker-mid="url(#m6)" marker-end="url(#m6)"/><polyline points="309.8,810.0 331.0,825.0 352.3,850.0 373.6,855.0 394.8,790.0 416.1,733.0 437.4,800.0 458.6,845.0 479.9,853.7 501.1,853.7 522.4,853.7 543.7,853.7 564.9,853.7 586.2,835.0 607.5,795.0 628.7,800.0 650.0,815.0 671.3,845.0 692.5,853.7 713.8,853.7 735.1,853.7 756.3,853.7 777.6,853.7 798.9,853.7 820.1,853.7 841.4,853.7 862.7,853.7 883.9,853.7 905.2,853.7 926.5,853.7 947.7,853.7 969.0,853.7 990.2,819.0 1011.5,840.0 1032.8,853.7 1054.0,853.7 1075.3,853.7 1096.6,853.7 1117.8,853.7 1139.1,846.4 1160.4,846.8 1181.6,853.7 1202.9,853.7 1224.2,853.7 1245.4,853.7 1266.7,853.7 1288.0,853.7 1309.2,838.1 1330.5,853.7 1351.8,853.7 1373.0,853.7 1394.3,853.7 1415.5,835.0 1436.8,736.0 1458.1,835.0 1479.3,835.7 1500.6,853.7 1521.9,853.7 1543.1,853.7 1564.4,853.7 1585.7,853.7 1606.9,853.7 1628.2,853.7 1649.5,848.3" fill="none" stroke="#20ff90" stroke-width="2.2" stroke-linejoin="round" marker-start="url(#m7)" marker-mid="url(#m7)" marker-end="url(#m7)"/><polyline points="309.8,795.0 331.0,812.0 352.3,850.0 373.6,855.0 394.8,780.0 416.1,735.0 437.4,810.0 458.6,848.0 479.9,855.5 501.1,855.5 522.4,855.5 543.7,855.5 564.9,855.5 586.2,835.0 607.5,790.0 628.7,805.0 650.0,820.0 671.3,845.0 692.5,855.5 713.8,855.5 735.1,855.5 756.3,855.5 777.6,855.5 798.9,855.5 820.1,855.5 841.4,855.5 862.7,855.5 883.9,855.5 905.2,855.5 926.5,855.5 947.7,855.5 969.0,855.5 990.2,855.5 1011.5,855.5 1032.8,855.5 1054.0,855.5 1075.3,855.5 1096.6,835.3 1117.8,855.5 1139.1,836.8 1160.4,855.5 1181.6,855.5 1202.9,855.5 1224.2,855.5 1245.4,852.2 1266.7,855.5 1288.0,855.5 1309.2,855.5 1330.5,855.5 1351.8,855.5 1373.0,782.0 1394.3,830.0 1415.5,855.5 1436.8,855.5 1458.1,847.7 1479.3,847.9 1500.6,855.5 1521.9,844.5 1543.1,835.2 1564.4,855.5 1585.7,855.5 1606.9,855.5 1628.2,855.5 1649.5,855.5" fill="none" stroke="#ff10ff" stroke-width="2.2" stroke-linejoin="round" marker-start="url(#m8)" marker-mid="url(#m8)" marker-end="url(#m8)"/><polyline points="309.8,815.0 331.0,825.0 352.3,850.0 373.6,855.0 394.8,790.0 416.1,790.0 437.4,840.0 458.6,852.0 479.9,854.9 501.1,854.9 522.4,854.9 543.7,854.9 564.9,854.9 586.2,840.0 607.5,815.0 628.7,810.0 650.0,800.0 671.3,840.0 692.5,854.9 713.8,854.9 735.1,854.9 756.3,854.9 777.6,854.9 798.9,854.9 820.1,854.9 841.4,848.0 862.7,854.9 883.9,854.9 905.2,849.0 926.5,800.0 947.7,795.0 969.0,845.0 990.2,852.0 1011.5,840.0 1032.8,801.0 1054.0,782.0 1075.3,806.0 1096.6,847.0 1117.8,854.9 1139.1,854.9 1160.4,833.0 1181.6,854.9 1202.9,854.9 1224.2,835.0 1245.4,843.5 1266.7,851.8 1288.0,854.9 1309.2,842.9 1330.5,854.9 1351.8,854.9 1373.0,842.1 1394.3,854.9 1415.5,854.9 1436.8,841.3 1458.1,846.6 1479.3,854.9 1500.6,854.9 1521.9,854.9 1543.1,854.9 1564.4,854.9 1585.7,854.9 1606.9,854.9 1628.2,854.9 1649.5,854.9" fill="none" stroke="#90ff20" stroke-width="2.2" stroke-linejoin="round" marker-start="url(#m9)" marker-mid="url(#m9)" marker-end="url(#m9)"/><polyline points="309.8,777.0 331.0,800.0 352.3,845.0 373.6,855.0 394.8,795.0 416.1,785.0 437.4,817.0 458.6,838.0 479.9,845.0 501.1,854.3 522.4,854.3 543.7,854.3 564.9,854.3 586.2,845.0 607.5,830.0 628.7,815.0 650.0,820.0 671.3,845.0 692.5,850.0 713.8,854.3 735.1,854.3 756.3,854.3 777.6,854.3 798.9,854.3 820.1,854.3 841.4,854.3 862.7,854.3 883.9,854.3 905.2,854.3 926.5,854.3 947.7,854.3 969.0,854.3 990.2,854.3 1011.5,854.3 1032.8,836.0 1054.0,814.0 1075.3,807.0 1096.6,824.0 1117.8,849.0 1139.1,854.3 1160.4,838.0 1181.6,840.0 1202.9,854.3 1224.2,854.3 1245.4,854.3 1266.7,854.3 1288.0,854.3 1309.2,854.3 1330.5,854.3 1351.8,840.7 1373.0,854.3 1394.3,854.3 1415.5,849.0 1436.8,854.3 1458.1,846.7 1479.3,838.6 1500.6,854.3 1521.9,854.3 1543.1,837.7 1564.4,854.3 1585.7,834.5 1606.9,854.3 1628.2,833.2 1649.5,854.3" fill="none" stroke="#1080ff" stroke-width="2.2" stroke-linejoin="round" marker-start="url(#m10)" marker-mid="url(#m10)" marker-end="url(#m10)"/><polyline points="309.8,790.0 331.0,805.0 352.3,848.0 373.6,855.0 394.8,770.0 416.1,790.0 437.4,835.0 458.6,852.0 479.9,853.7 501.1,853.7 522.4,853.7 543.7,853.7 564.9,853.7 586.2,838.0 607.5,800.0 628.7,805.0 650.0,815.0 671.3,845.0 692.5,853.7 713.8,853.7 735.1,853.7 756.3,853.7 777.6,853.7 798.9,853.7 820.1,853.7 841.4,853.7 862.7,845.0 883.9,853.7 905.2,853.7 926.5,853.7 947.7,853.7 969.0,853.7 990.2,853.7 1011.5,853.7 1032.8,853.7 1054.0,853.7 1075.3,845.0 1096.6,801.0 1117.8,848.0 1139.1,853.7 1160.4,853.7 1181.6,853.7 1202.9,842.5 1224.2,853.7 1245.4,853.7 1266.7,844.6 1288.0,853.7 1309.2,840.2 1330.5,853.7 1351.8,826.0 1373.0,844.4 1394.3,814.0 1415.5,853.7 1436.8,853.7 1458.1,832.0 1479.3,853.7 1500.6,853.7 1521.9,845.7 1543.1,835.9 1564.4,848.2 1585.7,853.7 1606.9,853.7 1628.2,853.7 1649.5,847.9" fill="none" stroke="#8080ff" stroke-width="2.2" stroke-linejoin="round" marker-start="url(#m11)" marker-mid="url(#m11)" marker-end="url(#m11)"/><polyline points="309.8,800.0 331.0,810.0 352.3,845.0 373.6,852.0 394.8,747.0 416.1,800.0 437.4,838.0 458.6,852.0 479.9,855.5 501.1,855.5 522.4,855.5 543.7,855.5 564.9,855.5 586.2,840.0 607.5,810.0 628.7,800.0 650.0,825.0 671.3,845.0 692.5,855.5 713.8,855.5 735.1,855.5 756.3,855.5 777.6,855.5 798.9,855.5 820.1,855.5 841.4,855.5 862.7,855.5 883.9,855.5 905.2,855.5 926.5,855.5 947.7,855.5 969.0,855.5 990.2,855.5 1011.5,855.5 1032.8,855.5 1054.0,850.0 1075.3,846.0 1096.6,855.5 1117.8,855.5 1139.1,855.5 1160.4,851.4 1181.6,855.5 1202.9,855.5 1224.2,834.7 1245.4,855.5 1266.7,855.5 1288.0,836.2 1309.2,836.1 1330.5,855.5 1351.8,855.5 1373.0,855.5 1394.3,855.5 1415.5,850.0 1436.8,855.5 1458.1,850.4 1479.3,851.5 1500.6,846.6 1521.9,838.1 1543.1,843.0 1564.4,845.9 1585.7,847.7 1606.9,838.6 1628.2,855.5 1649.5,843.5" fill="none" stroke="#90ff90" stroke-width="2.2" stroke-linejoin="round" marker-start="url(#m12)" marker-mid="url(#m12)" marker-end="url(#m12)"/><polyline points="309.8,792.0 331.0,808.0 352.3,848.0 373.6,855.0 394.8,775.0 416.1,795.0 437.4,840.0 458.6,852.0 479.9,854.9 501.1,854.9 522.4,854.9 543.7,854.9 564.9,854.9 586.2,835.0 607.5,778.0 628.7,800.0 650.0,820.0 671.3,845.0 692.5,854.9 713.8,854.9 735.1,854.9 756.3,854.9 777.6,854.9 798.9,854.9 820.1,854.9 841.4,854.9 862.7,854.9 883.9,854.9 905.2,854.9 926.5,854.9 947.7,854.9 969.0,854.9 990.2,854.9 1011.5,854.9 1032.8,854.9 1054.0,854.9 1075.3,854.9 1096.6,854.9 1117.8,836.3 1139.1,854.9 1160.4,854.9 1181.6,854.9 1202.9,854.9 1224.2,854.9 1245.4,854.9 1266.7,854.9 1288.0,854.9 1309.2,854.9 1330.5,854.9 1351.8,854.9 1373.0,854.9 1394.3,854.9 1415.5,849.4 1436.8,837.8 1458.1,848.8 1479.3,835.9 1500.6,854.9 1521.9,854.9 1543.1,847.3 1564.4,843.2 1585.7,843.4 1606.9,833.6 1628.2,854.9 1649.5,854.9" fill="none" stroke="#8a8aff" stroke-width="2.2" stroke-linejoin="round" marker-start="url(#m13)" marker-mid="url(#m13)" marker-end="url(#m13)"/><polyline points="309.8,749.0 331.0,774.0 352.3,835.0 373.6,852.0 394.8,785.0 416.1,747.0 437.4,835.0 458.6,852.0 479.9,854.3 501.1,854.3 522.4,854.3 543.7,855.0 564.9,842.0 586.2,801.0 607.5,805.0 628.7,810.0 650.0,830.0 671.3,840.0 692.5,823.0 713.8,845.0 735.1,854.3 756.3,854.3 777.6,854.3 798.9,854.3 820.1,854.3 841.4,854.3 862.7,854.3 883.9,854.3 905.2,854.3 926.5,854.3 947.7,854.3 969.0,854.3 990.2,854.3 1011.5,854.3 1032.8,854.3 1054.0,854.3 1075.3,854.3 1096.6,833.0 1117.8,844.5 1139.1,844.0 1160.4,854.3 1181.6,854.3 1202.9,841.7 1224.2,846.3 1245.4,843.7 1266.7,850.9 1288.0,846.9 1309.2,854.3 1330.5,854.3 1351.8,854.3 1373.0,854.3 1394.3,854.3 1415.5,854.3 1436.8,854.3 1458.1,832.6 1479.3,837.5 1500.6,854.3 1521.9,835.4 1543.1,854.3 1564.4,854.3 1585.7,854.3 1606.9,854.3 1628.2,841.3 1649.5,854.3" fill="none" stroke="#e0b040" stroke-width="2.2" stroke-linejoin="round" marker-start="url(#m14)" marker-mid="url(#m14)" marker-end="url(#m14)"/><polyline points="309.8,785.0 331.0,805.0 352.3,845.0 373.6,855.0 394.8,800.0 416.1,800.0 437.4,840.0 458.6,852.0 479.9,853.7 501.1,853.7 522.4,853.7 543.7,853.7 564.9,853.7 586.2,838.0 607.5,815.0 628.7,805.0 650.0,815.0 671.3,843.0 692.5,853.7 713.8,853.7 735.1,853.7 756.3,853.7 777.6,853.7 798.9,853.7 820.1,853.7 841.4,853.7 862.7,853.7 883.9,853.7 905.2,853.7 926.5,853.7 947.7,853.7 969.0,853.7 990.2,853.7 1011.5,853.7 1032.8,853.7 1054.0,853.7 1075.3,853.7 1096.6,853.7 1117.8,853.7 1139.1,853.7 1160.4,853.7 1181.6,853.7 1202.9,845.0 1224.2,761.0 1245.4,768.0 1266.7,850.0 1288.0,853.7 1309.2,853.7 1330.5,840.0 1351.8,793.0 1373.0,676.0 1394.3,743.0 1415.5,744.0 1436.8,779.0 1458.1,779.0 1479.3,835.0 1500.6,850.1 1521.9,843.8 1543.1,834.8 1564.4,853.7 1585.7,853.7 1606.9,853.7 1628.2,853.7 1649.5,853.7" fill="none" stroke="#80a010" stroke-width="2.2" stroke-linejoin="round" marker-start="url(#m15)" marker-mid="url(#m15)" marker-end="url(#m15)"/><polyline points="309.8,837.0 331.0,830.0 352.3,840.0 373.6,853.0 394.8,800.0 416.1,779.0 437.4,830.0 458.6,850.0 479.9,855.5 501.1,855.5 522.4,855.5 543.7,855.5 564.9,855.5 586.2,848.0 607.5,838.0 628.7,840.0 650.0,835.0 671.3,845.0 692.5,855.5 713.8,845.0 735.1,836.0 756.3,834.0 777.6,836.0 798.9,843.0 820.1,842.0 841.4,845.0 862.7,846.0 883.9,848.0 905.2,855.5 926.5,855.5 947.7,855.5 969.0,855.5 990.2,855.5 1011.5,855.5 1032.8,855.5 1054.0,855.5 1075.3,855.5 1096.6,837.3 1117.8,855.5 1139.1,855.5 1160.4,855.5 1181.6,855.5 1202.9,838.5 1224.2,851.1 1245.4,838.6 1266.7,838.4 1288.0,855.5 1309.2,830.0 1330.5,855.5 1351.8,800.0 1373.0,673.0 1394.3,760.0 1415.5,820.0 1436.8,855.5 1458.1,855.5 1479.3,855.5 1500.6,855.5 1521.9,855.5 1543.1,855.5 1564.4,849.7 1585.7,838.4 1606.9,841.7 1628.2,851.3 1649.5,839.7" fill="none" stroke="#0d6585" stroke-width="2.2" stroke-linejoin="round" marker-start="url(#m16)" marker-mid="url(#m16)" marker-end="url(#m16)"/><polyline points="309.8,795.0 331.0,810.0 352.3,845.0 373.6,855.0 394.8,790.0 416.1,790.0 437.4,838.0 458.6,852.0 479.9,854.9 501.1,854.9 522.4,854.9 543.7,854.9 564.9,854.9 586.2,840.0 607.5,815.0 628.7,800.0 650.0,812.0 671.3,845.0 692.5,854.9 713.8,854.9 735.1,854.9 756.3,854.9 777.6,854.9 798.9,854.9 820.1,854.9 841.4,854.9 862.7,854.9 883.9,854.9 905.2,854.9 926.5,854.9 947.7,854.9 969.0,854.9 990.2,854.9 1011.5,854.9 1032.8,854.9 1054.0,854.9 1075.3,854.9 1096.6,854.9 1117.8,854.9 1139.1,842.1 1160.4,854.9 1181.6,854.9 1202.9,834.9 1224.2,833.3 1245.4,854.9 1266.7,843.2 1288.0,854.9 1309.2,854.9 1330.5,854.9 1351.8,847.9 1373.0,854.9 1394.3,840.9 1415.5,841.9 1436.8,854.9 1458.1,836.3 1479.3,854.9 1500.6,854.9 1521.9,854.9 1543.1,834.8 1564.4,854.9 1585.7,851.8 1606.9,854.9 1628.2,854.9 1649.5,849.2" fill="none" stroke="#607a80" stroke-width="2.2" stroke-linejoin="round" marker-start="url(#m17)" marker-mid="url(#m17)" marker-end="url(#m17)"/><polyline points="309.8,790.0 331.0,815.0 352.3,848.0 373.6,855.0 394.8,785.0 416.1,795.0 437.4,840.0 458.6,852.0 479.9,854.3 501.1,854.3 522.4,854.3 543.7,854.3 564.9,854.3 586.2,840.0 607.5,825.0 628.7,808.0 650.0,820.0 671.3,846.0 692.5,854.3 713.8,854.3 735.1,854.3 756.3,854.3 777.6,854.3 798.9,854.3 820.1,854.3 841.4,854.3 862.7,854.3 883.9,854.3 905.2,854.3 926.5,854.3 947.7,854.3 969.0,854.3 990.2,854.3 1011.5,854.3 1032.8,854.3 1054.0,854.3 1075.3,854.3 1096.6,854.3 1117.8,835.3 1139.1,837.0 1160.4,854.3 1181.6,833.7 1202.9,854.3 1224.2,854.3 1245.4,844.2 1266.7,854.3 1288.0,854.3 1309.2,854.3 1330.5,854.3 1351.8,854.3 1373.0,850.4 1394.3,835.4 1415.5,833.5 1436.8,846.3 1458.1,854.3 1479.3,844.2 1500.6,854.3 1521.9,854.3 1543.1,854.3 1564.4,854.3 1585.7,854.3 1606.9,854.3 1628.2,854.3 1649.5,854.3" fill="none" stroke="#806068" stroke-width="2.2" stroke-linejoin="round" marker-start="url(#m18)" marker-mid="url(#m18)" marker-end="url(#m18)"/><polyline points="309.8,785.0 331.0,810.0 352.3,848.0 373.6,855.0 394.8,765.0 416.1,790.0 437.4,838.0 458.6,852.0 479.9,853.7 501.1,853.7 522.4,853.7 543.7,853.7 564.9,853.7 586.2,842.0 607.5,815.0 628.7,800.0 650.0,820.0 671.3,846.0 692.5,853.7 713.8,853.7 735.1,853.7 756.3,853.7 777.6,853.7 798.9,853.7 820.1,853.7 841.4,853.7 862.7,853.7 883.9,853.7 905.2,853.7 926.5,853.7 947.7,853.7 969.0,853.7 990.2,853.7 1011.5,853.7 1032.8,853.7 1054.0,853.7 1075.3,853.7 1096.6,836.8 1117.8,853.7 1139.1,853.7 1160.4,853.7 1181.6,849.8 1202.9,853.7 1224.2,841.7 1245.4,853.7 1266.7,836.7 1288.0,853.7 1309.2,838.2 1330.5,840.1 1351.8,853.7 1373.0,847.6 1394.3,833.5 1415.5,853.7 1436.8,833.5 1458.1,853.7 1479.3,853.7 1500.6,847.0 1521.9,844.2 1543.1,846.2 1564.4,839.9 1585.7,853.7 1606.9,853.7 1628.2,853.7 1649.5,853.7" fill="none" stroke="#c4c4c4" stroke-width="2.2" stroke-linejoin="round" marker-start="url(#m19)" marker-mid="url(#m19)" marker-end="url(#m19)"/><polyline points="309.8,768.0 331.0,800.0 352.3,845.0 373.6,855.0 394.8,757.0 416.1,780.0 437.4,835.0 458.6,852.0 479.9,855.5 501.1,855.5 522.4,855.5 543.7,855.5 564.9,855.5 586.2,835.0 607.5,763.0 628.7,788.0 650.0,815.0 671.3,845.0 692.5,855.5 713.8,855.5 735.1,855.5 756.3,855.5 777.6,855.5 798.9,855.5 820.1,855.5 841.4,855.5 862.7,855.5 883.9,855.5 905.2,855.5 926.5,855.5 947.7,855.5 969.0,849.0 990.2,698.0 1011.5,844.0 1032.8,855.5 1054.0,855.5 1075.3,855.5 1096.6,855.5 1117.8,814.0 1139.1,807.0 1160.4,852.0 1181.6,855.5 1202.9,835.0 1224.2,855.5 1245.4,847.2 1266.7,855.5 1288.0,842.9 1309.2,855.5 1330.5,855.5 1351.8,847.4 1373.0,844.9 1394.3,855.5 1415.5,855.5 1436.8,855.5 1458.1,855.5 1479.3,851.9 1500.6,855.5 1521.9,855.5 1543.1,855.5 1564.4,855.5 1585.7,845.1 1606.9,855.5 1628.2,855.5 1649.5,855.5" fill="none" stroke="#8c8c8c" stroke-width="2.2" stroke-linejoin="round" marker-start="url(#m20)" marker-mid="url(#m20)" marker-end="url(#m20)"/><polyline points="288.5,103.0 309.8,143.0 331.0,140.0 352.3,104.0 373.6,92.0 394.8,112.0 416.1,160.0 437.4,215.0 458.6,228.0 479.9,229.1 501.1,222.0 522.4,218.1 543.7,212.0 564.9,203.0 586.2,192.0 607.5,165.8 628.7,143.0 650.0,145.4 671.3,165.0 692.5,170.3 713.8,160.0 735.1,195.0 756.3,185.0 777.6,178.0 798.9,168.0 820.1,167.8 841.4,150.0 862.7,139.9 883.9,140.0 905.2,133.0 926.5,122.0 947.7,109.9 969.0,100.0 990.2,94.7 1011.5,92.0 1032.8,87.2 1054.0,85.0 1075.3,85.1 1096.6,80.0 1117.8,84.0 1139.1,78.0 1160.4,94.0 1181.6,90.0 1202.9,95.0 1224.2,92.0 1245.4,90.4 1266.7,82.0 1288.0,75.0 1309.2,68.0 1330.5,67.4 1351.8,54.0 1373.0,85.0 1394.3,90.0 1415.5,150.0 1436.8,124.0 1458.1,96.0 1479.3,124.0 1500.6,118.0 1521.9,130.0 1543.1,135.0 1564.4,158.0 1585.7,168.0 1606.9,171.0 1628.2,168.0 1649.5,171.0" fill="none" stroke="#1a8090" stroke-width="2.2" stroke-linejoin="round" marker-start="url(#m1)" marker-mid="url(#m1)" marker-end="url(#m1)"/><polyline points="288.5,110.0 309.8,135.5 331.0,134.1 352.3,115.5 373.6,97.0 394.8,114.8 416.1,162.0 437.4,226.0 458.6,232.0 479.9,230.1 501.1,220.0 522.4,218.1 543.7,214.0 564.9,210.5 586.2,205.0 607.5,198.3 628.7,195.0 650.0,215.0 671.3,225.0 692.5,236.0 713.8,234.0 735.1,245.0 756.3,248.0 777.6,250.0 798.9,250.0 820.1,250.0 841.4,236.0 862.7,253.0 883.9,252.0 905.2,252.0 926.5,235.0 947.7,237.0 969.0,222.0 990.2,203.0 1011.5,177.0 1032.8,169.7 1054.0,165.0 1075.3,160.1 1096.6,150.0 1117.8,152.4 1139.1,160.0 1160.4,177.7 1181.6,185.0 1202.9,228.0 1224.2,305.0 1245.4,302.0 1266.7,290.0 1288.0,290.0 1309.2,295.0 1330.5,309.0 1351.8,280.0 1373.0,242.0 1394.3,225.0 1415.5,235.0 1436.8,244.0 1458.1,241.0 1479.3,243.0 1500.6,240.0 1521.9,235.0 1543.1,230.0 1564.4,225.0 1585.7,247.0 1606.9,265.0 1628.2,286.0 1649.5,277.0" fill="none" stroke="#c0bc00" stroke-width="2.2" stroke-linejoin="round" marker-start="url(#m2)" marker-mid="url(#m2)" marker-end="url(#m2)"/><polyline points="288.5,108.0 309.8,132.2 331.0,129.6 352.3,109.8 373.6,90.0 394.8,104.0 416.1,132.0 437.4,175.0 458.6,214.0 479.9,215.0 501.1,218.0 522.4,217.6 543.7,215.0 564.9,211.0 586.2,205.0 607.5,198.3 628.7,195.0 650.0,205.0 671.3,240.0 692.5,283.0 713.8,287.0 735.1,290.0 756.3,290.0 777.6,268.0 798.9,257.0 820.1,227.0 841.4,195.0 862.7,178.0 883.9,168.0 905.2,166.0 926.5,160.0 947.7,156.4 969.0,155.0 990.2,151.2 1011.5,150.0 1032.8,147.7 1054.0,148.0 1075.3,151.6 1096.6,150.0 1117.8,151.4 1139.1,158.0 1160.4,174.2 1181.6,180.0 1202.9,205.0 1224.2,242.0 1245.4,300.0 1266.7,365.0 1288.0,380.0 1309.2,368.0 1330.5,384.0 1351.8,388.0 1373.0,378.0 1394.3,379.0 1415.5,369.0 1436.8,310.0 1458.1,254.0 1479.3,265.0 1500.6,268.0 1521.9,290.0 1543.1,310.0 1564.4,328.0 1585.7,330.0 1606.9,316.0 1628.2,272.0 1649.5,230.0" fill="none" stroke="#0a800a" stroke-width="2.2" stroke-linejoin="round" marker-start="url(#m3)" marker-mid="url(#m3)" marker-end="url(#m3)"/><polyline points="288.5,110.0 309.8,135.2 331.0,133.6 352.3,114.8 373.6,96.0 394.8,133.3 416.1,200.0 437.4,230.0 458.6,225.0 479.9,224.1 501.1,215.0 522.4,211.1 543.7,205.0 564.9,203.5 586.2,200.0 607.5,190.8 628.7,185.0 650.0,181.4 671.3,195.0 692.5,203.0 713.8,188.0 735.1,199.0 756.3,202.0 777.6,196.0 798.9,180.0 820.1,180.0 841.4,178.0 862.7,178.0 883.9,176.0 905.2,176.0 926.5,172.0 947.7,159.9 969.0,150.0 990.2,135.0 1011.5,140.0 1032.8,158.7 1054.0,180.0 1075.3,181.6 1096.6,178.0 1117.8,170.4 1139.1,168.0 1160.4,164.2 1181.6,150.0 1202.9,130.9 1224.2,129.0 1245.4,173.0 1266.7,215.0 1288.0,215.0 1309.2,232.0 1330.5,205.0 1351.8,160.0 1373.0,131.0 1394.3,142.0 1415.5,186.0 1436.8,194.0 1458.1,196.0 1479.3,199.0 1500.6,250.0 1521.9,285.0 1543.1,315.0 1564.4,355.0 1585.7,384.0 1606.9,351.0 1628.2,350.0 1649.5,372.0" fill="none" stroke="#ff8010" stroke-width="2.2" stroke-linejoin="round" marker-start="url(#m4)" marker-mid="url(#m4)" marker-end="url(#m4)"/><polyline points="288.5,112.0 309.8,137.7 331.0,136.6 352.3,118.3 373.6,100.0 394.8,106.8 416.1,143.0 437.4,193.0 458.6,249.0 479.9,249.0 501.1,249.0 522.4,252.0 543.7,236.0 564.9,244.0 586.2,203.0 607.5,186.0 628.7,192.0 650.0,250.0 671.3,301.0 692.5,271.0 713.8,270.0 735.1,250.0 756.3,215.0 777.6,190.0 798.9,178.0 820.1,170.0 841.4,160.0 862.7,150.0 883.9,142.0 905.2,140.0 926.5,130.0 947.7,123.9 969.0,120.0 990.2,105.0 1011.5,90.0 1032.8,75.0 1054.0,59.0 1075.3,95.0 1096.6,216.0 1117.8,200.0 1139.1,195.0 1160.4,198.0 1181.6,190.0 1202.9,175.0 1224.2,150.0 1245.4,140.0 1266.7,120.0 1288.0,108.0 1309.2,106.0 1330.5,106.0 1351.8,125.0 1373.0,180.0 1394.3,230.0 1415.5,245.0 1436.8,264.0 1458.1,280.0 1479.3,297.0 1500.6,315.0 1521.9,300.0 1543.1,283.0 1564.4,283.0 1585.7,270.0 1606.9,255.0 1628.2,245.0 1649.5,240.0" fill="none" stroke="#10ff10" stroke-width="2.2" stroke-linejoin="round" marker-start="url(#m5)" marker-mid="url(#m5)" marker-end="url(#m5)"/><polyline points="288.5,106.0 309.8,130.2 331.0,127.6 352.3,107.8 373.6,88.0 394.8,92.0 416.1,150.0 437.4,205.0 458.6,230.0 479.9,233.1 501.1,228.0 522.4,226.1 543.7,222.0 564.9,214.5 586.2,205.0 607.5,198.3 628.7,195.0 650.0,205.0 671.3,246.0 692.5,275.0 713.8,265.0 735.1,294.0 756.3,254.0 777.6,219.0 798.9,183.0 820.1,175.0 841.4,168.0 862.7,158.9 883.9,160.0 905.2,157.0 926.5,150.0 947.7,141.4 969.0,135.0 990.2,131.7 1011.5,131.0 1032.8,130.2 1054.0,132.0 1075.3,137.6 1096.6,138.0 1117.8,133.9 1139.1,135.0 1160.4,142.7 1181.6,140.0 1202.9,175.0 1224.2,205.0 1245.4,315.0 1266.7,355.0 1288.0,388.0 1309.2,446.0 1330.5,466.0 1351.8,444.0 1373.0,425.0 1394.3,431.0 1415.5,432.0 1436.8,415.0 1458.1,355.0 1479.3,300.0 1500.6,260.0 1521.9,225.0 1543.1,180.0 1564.4,132.0 1585.7,132.0 1606.9,270.0 1628.2,290.0 1649.5,240.0" fill="none" stroke="#800080" stroke-width="2.2" stroke-linejoin="round" marker-start="url(#m6)" marker-mid="url(#m6)" marker-end="url(#m6)"/><polyline points="288.5,107.0 309.8,132.0 331.0,130.1 352.3,111.0 373.6,92.0 394.8,111.3 416.1,160.0 437.4,210.0 458.6,230.0 479.9,232.3 501.1,226.4 522.4,219.2 543.7,210.0 564.9,203.7 586.2,195.3 607.5,185.9 628.7,180.0 650.0,179.5 671.3,196.1 692.5,205.9 713.8,200.0 735.1,227.0 756.3,215.0 777.6,201.5 798.9,185.0 820.1,186.3 841.4,170.0 862.7,154.9 883.9,150.0 905.2,147.0 926.5,140.0 947.7,128.9 969.0,120.0 990.2,108.7 1011.5,100.0 1032.8,96.2 1054.0,95.0 1075.3,98.3 1096.6,96.4 1117.8,90.6 1139.1,90.0 1160.4,90.6 1181.6,80.9 1202.9,75.0 1224.2,68.0 1245.4,82.0 1266.7,105.0 1288.0,117.5 1309.2,130.0 1330.5,146.4 1351.8,150.0 1373.0,158.0 1394.3,170.0 1415.5,165.2 1436.8,150.0 1458.1,200.0 1479.3,295.0 1500.6,350.0 1521.9,385.0 1543.1,372.0 1564.4,268.0 1585.7,238.0 1606.9,210.0 1628.2,205.0 1649.5,208.0" fill="none" stroke="#20ff90" stroke-width="2.2" stroke-linejoin="round" marker-start="url(#m7)" marker-mid="url(#m7)" marker-end="url(#m7)"/><polyline points="288.5,109.0 309.8,134.2 331.0,132.6 352.3,113.8 373.6,95.0 394.8,119.3 416.1,173.0 437.4,227.0 458.6,238.0 479.9,239.6 501.1,232.9 522.4,225.0 543.7,215.0 564.9,198.5 586.2,180.0 607.5,151.0 628.7,165.0 650.0,200.0 671.3,225.0 692.5,259.0 713.8,225.0 735.1,195.0 756.3,160.0 777.6,155.0 798.9,150.0 820.1,153.8 841.4,140.0 862.7,132.4 883.9,135.0 905.2,132.0 926.5,125.0 947.7,116.4 969.0,110.0 990.2,95.0 1011.5,80.0 1032.8,71.0 1054.0,85.0 1075.3,94.0 1096.6,87.0 1117.8,94.0 1139.1,100.0 1160.4,115.0 1181.6,120.0 1202.9,144.0 1224.2,157.0 1245.4,170.0 1266.7,178.0 1288.0,191.0 1309.2,189.0 1330.5,222.0 1351.8,269.0 1373.0,253.0 1394.3,222.0 1415.5,186.0 1436.8,150.0 1458.1,137.0 1479.3,170.0 1500.6,172.0 1521.9,165.0 1543.1,166.0 1564.4,166.0 1585.7,170.0 1606.9,180.0 1628.2,195.0 1649.5,215.0" fill="none" stroke="#ff10ff" stroke-width="2.2" stroke-linejoin="round" marker-start="url(#m8)" marker-mid="url(#m8)" marker-end="url(#m8)"/><polyline points="288.5,110.0 309.8,135.7 331.0,134.6 352.3,116.3 373.6,98.0 394.8,116.8 416.1,165.0 437.4,219.0 458.6,240.0 479.9,237.3 501.1,226.4 522.4,214.2 543.7,200.0 564.9,183.0 586.2,173.0 607.5,160.0 628.7,175.0 650.0,211.4 671.3,265.0 692.5,269.0 713.8,262.0 735.1,255.0 756.3,245.0 777.6,240.0 798.9,235.0 820.1,230.0 841.4,210.0 862.7,195.0 883.9,180.0 905.2,175.0 926.5,192.0 947.7,170.0 969.0,165.0 990.2,156.2 1011.5,150.0 1032.8,143.7 1054.0,140.0 1075.3,170.1 1096.6,195.0 1117.8,194.9 1139.1,200.0 1160.4,195.2 1181.6,180.0 1202.9,168.9 1224.2,175.0 1245.4,222.0 1266.7,248.0 1288.0,239.0 1309.2,256.0 1330.5,260.0 1351.8,260.0 1373.0,242.0 1394.3,225.0 1415.5,210.0 1436.8,205.0 1458.1,200.0 1479.3,230.0 1500.6,225.0 1521.9,215.0 1543.1,212.0 1564.4,210.0 1585.7,200.0 1606.9,190.0 1628.2,195.0 1649.5,205.0" fill="none" stroke="#90ff20" stroke-width="2.2" stroke-linejoin="round" marker-start="url(#m9)" marker-mid="url(#m9)" marker-end="url(#m9)"/><polyline points="288.5,108.0 309.8,133.5 331.0,132.1 352.3,113.5 373.6,95.0 394.8,116.3 416.1,167.0 437.4,222.0 458.6,230.0 479.9,231.1 501.1,223.9 522.4,215.5 543.7,205.0 564.9,198.7 586.2,190.3 607.5,180.9 628.7,175.0 650.0,173.9 671.3,190.0 692.5,194.0 713.8,185.0 735.1,175.0 756.3,160.0 777.6,145.0 798.9,160.0 820.1,163.8 841.4,150.0 862.7,142.4 883.9,145.0 905.2,144.5 926.5,140.0 947.7,136.4 969.0,135.0 990.2,128.7 1011.5,125.0 1032.8,119.0 1054.0,115.0 1075.3,113.0 1096.6,126.0 1117.8,200.0 1139.1,232.0 1160.4,250.0 1181.6,246.0 1202.9,200.0 1224.2,160.0 1245.4,165.0 1266.7,180.0 1288.0,200.0 1309.2,212.0 1330.5,235.0 1351.8,239.0 1373.0,239.0 1394.3,255.0 1415.5,283.0 1436.8,295.0 1458.1,285.0 1479.3,280.0 1500.6,269.0 1521.9,269.0 1543.1,285.0 1564.4,305.0 1585.7,302.0 1606.9,305.0 1628.2,296.0 1649.5,296.0" fill="none" stroke="#1080ff" stroke-width="2.2" stroke-linejoin="round" marker-start="url(#m10)" marker-mid="url(#m10)" marker-end="url(#m10)"/><polyline points="288.5,107.0 309.8,133.0 331.0,132.1 352.3,114.0 373.6,96.0 394.8,122.3 416.1,178.0 437.4,232.0 458.6,240.0 479.9,241.1 501.1,233.9 522.4,225.5 543.7,215.0 564.9,221.0 586.2,212.0 607.5,197.0 628.7,205.0 650.0,208.0 671.3,215.0 692.5,227.8 713.8,225.0 735.1,238.0 756.3,225.0 777.6,214.0 798.9,200.0 820.1,198.8 841.4,180.0 862.7,185.0 883.9,216.0 905.2,213.0 926.5,176.0 947.7,165.0 969.0,167.0 990.2,170.0 1011.5,175.0 1032.8,188.0 1054.0,201.0 1075.3,208.0 1096.6,185.0 1117.8,195.0 1139.1,219.0 1160.4,237.0 1181.6,232.0 1202.9,236.0 1224.2,225.0 1245.4,225.0 1266.7,216.0 1288.0,215.0 1309.2,230.0 1330.5,250.0 1351.8,262.0 1373.0,262.0 1394.3,260.0 1415.5,286.0 1436.8,297.0 1458.1,285.0 1479.3,278.0 1500.6,280.0 1521.9,289.0 1543.1,288.0 1564.4,285.0 1585.7,275.0 1606.9,270.0 1628.2,262.0 1649.5,275.0" fill="none" stroke="#8080ff" stroke-width="2.2" stroke-linejoin="round" marker-start="url(#m11)" marker-mid="url(#m11)" marker-end="url(#m11)"/><polyline points="288.5,110.0 309.8,139.0 331.0,141.1 352.3,126.0 373.6,111.0 394.8,146.0 416.1,218.0 437.4,237.0 458.6,240.0 479.9,239.1 501.1,230.0 522.4,223.6 543.7,215.0 564.9,208.5 586.2,200.0 607.5,193.3 628.7,190.0 650.0,191.4 671.3,210.0 692.5,212.8 713.8,200.0 735.1,186.4 756.3,157.0 777.6,155.0 798.9,150.0 820.1,153.8 841.4,140.0 862.7,132.4 883.9,135.0 905.2,134.5 926.5,130.0 947.7,126.4 969.0,125.0 990.2,121.2 1011.5,120.0 1032.8,116.2 1054.0,115.0 1075.3,115.1 1096.6,110.0 1117.8,104.9 1139.1,105.0 1160.4,95.2 1181.6,75.0 1202.9,60.4 1224.2,63.0 1245.4,81.0 1266.7,100.0 1288.0,110.0 1309.2,120.0 1330.5,141.4 1351.8,150.0 1373.0,155.5 1394.3,165.0 1415.5,172.7 1436.8,170.0 1458.1,164.8 1479.3,180.0 1500.6,191.2 1521.9,190.0 1543.1,188.2 1564.4,185.0 1585.7,177.6 1606.9,170.0 1628.2,165.0 1649.5,160.0" fill="none" stroke="#90ff90" stroke-width="2.2" stroke-linejoin="round" marker-start="url(#m12)" marker-mid="url(#m12)" marker-end="url(#m12)"/><polyline points="288.5,108.0 309.8,133.5 331.0,132.1 352.3,113.5 373.6,95.0 394.8,120.8 416.1,176.0 437.4,226.0 458.6,235.0 479.9,236.1 501.1,228.9 522.4,220.5 543.7,210.0 564.9,203.7 586.2,195.3 607.5,185.9 628.7,180.0 650.0,173.2 671.3,183.6 692.5,187.2 713.8,175.0 735.1,184.9 756.3,179.0 777.6,173.5 798.9,165.0 820.1,173.1 841.4,163.5 862.7,156.7 883.9,160.0 905.2,162.6 926.5,161.1 947.7,154.4 969.0,150.0 990.2,146.1 1011.5,145.0 1032.8,141.2 1054.0,140.0 1075.3,143.3 1096.6,141.4 1117.8,135.6 1139.1,135.0 1160.4,132.8 1181.6,120.2 1202.9,111.4 1224.2,120.0 1245.4,125.2 1266.7,123.5 1288.0,119.2 1309.2,115.0 1330.5,125.5 1351.8,123.2 1373.0,122.2 1394.3,125.0 1415.5,127.5 1436.8,119.5 1458.1,111.6 1479.3,124.0 1500.6,146.0 1521.9,165.0 1543.1,180.0 1564.4,155.0 1585.7,158.0 1606.9,160.0 1628.2,124.0 1649.5,100.0" fill="none" stroke="#8a8aff" stroke-width="2.2" stroke-linejoin="round" marker-start="url(#m13)" marker-mid="url(#m13)" marker-end="url(#m13)"/><polyline points="288.5,111.0 309.8,136.5 331.0,135.1 352.3,116.5 373.6,98.0 394.8,125.3 416.1,182.0 437.4,232.0 458.6,214.0 479.9,204.0 501.1,212.0 522.4,204.0 543.7,195.0 564.9,166.0 586.2,166.0 607.5,157.0 628.7,165.0 650.0,180.0 671.3,200.0 692.5,212.8 713.8,210.0 735.1,262.0 756.3,279.0 777.6,277.0 798.9,279.0 820.1,279.0 841.4,272.0 862.7,235.0 883.9,211.0 905.2,187.0 926.5,168.0 947.7,150.0 969.0,140.0 990.2,145.0 1011.5,150.0 1032.8,155.0 1054.0,150.0 1075.3,150.1 1096.6,145.0 1117.8,139.9 1139.1,140.0 1160.4,140.2 1181.6,130.0 1202.9,113.9 1224.2,115.0 1245.4,113.4 1266.7,105.0 1288.0,102.5 1309.2,100.0 1330.5,105.4 1351.8,98.0 1373.0,97.0 1394.3,100.0 1415.5,107.0 1436.8,110.0 1458.1,111.0 1479.3,97.0 1500.6,107.0 1521.9,115.0 1543.1,127.0 1564.4,137.0 1585.7,160.0 1606.9,190.0 1628.2,170.0 1649.5,154.0" fill="none" stroke="#e0b040" stroke-width="2.2" stroke-linejoin="round" marker-start="url(#m14)" marker-mid="url(#m14)" marker-end="url(#m14)"/><polyline points="288.5,109.0 309.8,131.2 331.0,126.6 352.3,104.8 373.6,83.0 394.8,105.8 416.1,158.0 437.4,214.0 458.6,221.0 479.9,213.0 501.1,196.0 522.4,207.0 543.7,203.0 564.9,218.0 586.2,203.0 607.5,187.0 628.7,200.0 650.0,226.0 671.3,226.0 692.5,229.0 713.8,232.0 735.1,244.0 756.3,248.0 777.6,250.0 798.9,230.0 820.1,228.8 841.4,210.0 862.7,194.9 883.9,190.0 905.2,187.0 926.5,180.0 947.7,176.4 969.0,175.0 990.2,168.7 1011.5,165.0 1032.8,161.2 1054.0,160.0 1075.3,160.1 1096.6,155.0 1117.8,149.9 1139.1,150.0 1160.4,155.2 1181.6,150.0 1202.9,142.4 1224.2,152.0 1245.4,154.4 1266.7,150.0 1288.0,145.0 1309.2,140.0 1330.5,143.9 1351.8,135.0 1373.0,132.0 1394.3,133.0 1415.5,149.2 1436.8,155.0 1458.1,147.3 1479.3,160.0 1500.6,168.8 1521.9,165.0 1543.1,170.8 1564.4,175.0 1585.7,177.6 1606.9,180.0 1628.2,183.8 1649.5,190.0" fill="none" stroke="#80a010" stroke-width="2.2" stroke-linejoin="round" marker-start="url(#m15)" marker-mid="url(#m15)" marker-end="url(#m15)"/><polyline points="288.5,104.0 309.8,130.0 331.0,129.1 352.3,111.0 373.6,93.0 394.8,107.8 416.1,152.0 437.4,212.0 458.6,235.0 479.9,249.0 501.1,240.0 522.4,241.0 543.7,225.0 564.9,213.0 586.2,206.5 607.5,199.1 628.7,195.0 650.0,198.9 671.3,220.0 692.5,219.0 713.8,258.0 735.1,271.0 756.3,264.0 777.6,283.0 798.9,307.0 820.1,327.0 841.4,338.0 862.7,346.0 883.9,356.0 905.2,360.0 926.5,358.0 947.7,358.0 969.0,364.0 990.2,394.0 1011.5,385.0 1032.8,378.0 1054.0,372.0 1075.3,368.0 1096.6,345.0 1117.8,330.0 1139.1,330.0 1160.4,335.0 1181.6,308.0 1202.9,260.0 1224.2,222.0 1245.4,170.0 1266.7,134.0 1288.0,86.0 1309.2,93.0 1330.5,67.0 1351.8,69.0 1373.0,80.0 1394.3,100.0 1415.5,115.2 1436.8,120.0 1458.1,119.8 1479.3,140.0 1500.6,156.2 1521.9,160.0 1543.1,168.2 1564.4,175.0 1585.7,177.6 1606.9,180.0 1628.2,181.3 1649.5,185.0" fill="none" stroke="#0d6585" stroke-width="2.2" stroke-linejoin="round" marker-start="url(#m16)" marker-mid="url(#m16)" marker-end="url(#m16)"/><polyline points="288.5,108.0 309.8,133.7 331.0,132.6 352.3,114.3 373.6,96.0 394.8,127.3 416.1,188.0 437.4,237.0 458.6,258.0 479.9,258.0 501.1,242.0 522.4,238.0 543.7,225.0 564.9,213.0 586.2,208.2 607.5,202.4 628.7,200.0 650.0,198.9 671.3,215.0 692.5,226.3 713.8,222.0 735.1,229.9 756.3,222.0 777.6,222.0 798.9,276.0 820.1,285.0 841.4,287.0 862.7,284.0 883.9,264.0 905.2,257.0 926.5,235.0 947.7,207.0 969.0,188.0 990.2,177.0 1011.5,172.0 1032.8,168.0 1054.0,165.0 1075.3,165.1 1096.6,160.0 1117.8,152.4 1139.1,150.0 1160.4,160.2 1181.6,160.0 1202.9,156.4 1224.2,170.0 1245.4,170.9 1266.7,165.0 1288.0,162.5 1309.2,160.0 1330.5,168.9 1351.8,165.0 1373.0,160.5 1394.3,160.0 1415.5,167.7 1436.8,165.0 1458.1,167.3 1479.3,190.0 1500.6,238.0 1521.9,250.0 1543.1,256.0 1564.4,250.0 1585.7,246.0 1606.9,232.0 1628.2,220.0 1649.5,222.0" fill="none" stroke="#607a80" stroke-width="2.2" stroke-linejoin="round" marker-start="url(#m17)" marker-mid="url(#m17)" marker-end="url(#m17)"/><polyline points="288.5,109.0 309.8,134.7 331.0,133.6 352.3,115.3 373.6,97.0 394.8,125.8 416.1,184.0 437.4,234.0 458.6,232.0 479.9,235.8 501.1,231.4 522.4,225.8 543.7,218.0 564.9,214.7 586.2,209.3 607.5,202.9 628.7,200.0 650.0,186.4 671.3,190.0 692.5,187.8 713.8,170.0 735.1,172.9 756.3,160.0 777.6,156.5 798.9,150.0 820.1,153.8 841.4,140.0 862.7,129.9 883.9,130.0 905.2,127.0 926.5,120.0 947.7,113.4 969.0,109.0 990.2,109.0 1011.5,109.0 1032.8,109.0 1054.0,86.0 1075.3,88.0 1096.6,86.0 1117.8,90.4 1139.1,100.0 1160.4,107.7 1181.6,105.0 1202.9,98.9 1224.2,110.0 1245.4,126.0 1266.7,124.0 1288.0,120.0 1309.2,122.0 1330.5,121.0 1351.8,118.0 1373.0,107.0 1394.3,94.0 1415.5,94.0 1436.8,96.0 1458.1,150.0 1479.3,180.0 1500.6,210.0 1521.9,180.0 1543.1,150.0 1564.4,121.0 1585.7,121.0 1606.9,115.0 1628.2,114.0 1649.5,122.0" fill="none" stroke="#806068" stroke-width="2.2" stroke-linejoin="round" marker-start="url(#m18)" marker-mid="url(#m18)" marker-end="url(#m18)"/><polyline points="288.5,110.0 309.8,135.2 331.0,133.6 352.3,114.8 373.6,96.0 394.8,123.3 416.1,180.0 437.4,228.0 458.6,240.0 479.9,237.3 501.1,226.4 522.4,214.2 543.7,200.0 564.9,188.7 586.2,175.3 607.5,160.9 628.7,150.0 650.0,149.0 671.3,145.0 692.5,143.0 713.8,146.0 735.1,144.0 756.3,147.0 777.6,149.0 798.9,148.0 820.1,155.3 841.4,145.0 862.7,137.4 883.9,140.0 905.2,144.5 926.5,145.0 947.7,146.4 969.0,150.0 990.2,151.2 1011.5,155.0 1032.8,156.2 1054.0,160.0 1075.3,170.1 1096.6,175.0 1117.8,180.0 1139.1,196.0 1160.4,220.0 1181.6,252.0 1202.9,278.0 1224.2,308.0 1245.4,338.0 1266.7,359.0 1288.0,371.0 1309.2,394.0 1330.5,399.0 1351.8,399.0 1373.0,399.0 1394.3,408.0 1415.5,409.0 1436.8,388.0 1458.1,370.0 1479.3,355.0 1500.6,338.0 1521.9,310.0 1543.1,308.0 1564.4,306.0 1585.7,303.0 1606.9,303.0 1628.2,323.0 1649.5,333.0" fill="none" stroke="#c4c4c4" stroke-width="2.2" stroke-linejoin="round" marker-start="url(#m19)" marker-mid="url(#m19)" marker-end="url(#m19)"/><polyline points="288.5,108.0 309.8,133.5 331.0,132.1 352.3,113.5 373.6,95.0 394.8,125.8 416.1,186.0 437.4,234.0 458.6,235.0 479.9,236.1 501.1,228.9 522.4,220.5 543.7,210.0 564.9,197.9 586.2,183.8 607.5,168.7 628.7,157.0 650.0,150.4 671.3,161.0 692.5,163.0 713.8,165.0 735.1,166.0 756.3,146.0 777.6,142.0 798.9,129.0 820.1,145.0 841.4,150.0 862.7,139.9 883.9,140.0 905.2,139.5 926.5,135.0 947.7,130.4 969.0,128.0 990.2,122.7 1011.5,120.0 1032.8,113.7 1054.0,110.0 1075.3,102.6 1096.6,90.0 1117.8,66.0 1139.1,85.0 1160.4,100.0 1181.6,80.0 1202.9,-2.0 1224.2,49.0 1245.4,71.0 1266.7,85.0 1288.0,100.0 1309.2,118.0 1330.5,125.0 1351.8,130.0 1373.0,135.0 1394.3,130.0 1415.5,69.0 1436.8,32.0 1458.1,28.0 1479.3,78.0 1500.6,165.0 1521.9,190.0 1543.1,133.0 1564.4,52.0 1585.7,48.0 1606.9,37.0 1628.2,23.0 1649.5,5.0" fill="none" stroke="#8c8c8c" stroke-width="2.2" stroke-linejoin="round" marker-start="url(#m20)" marker-mid="url(#m20)" marker-end="url(#m20)"/><polyline points="288.5,497.0 309.8,516.0 331.0,513.0 352.3,490.0 373.6,498.0 394.8,500.3 416.1,517.5 437.4,519.3 458.6,532.0 479.9,532.1 501.1,537.5 522.4,544.9 543.7,548.0 564.9,548.6 586.2,540.0 607.5,516.5 628.7,460.0 650.0,469.5 671.3,483.0 692.5,475.6 713.8,480.0 735.1,486.1 756.3,480.7 777.6,479.4 798.9,478.0 820.1,482.6 841.4,488.1 862.7,479.0 883.9,472.0 905.2,471.8 926.5,469.1 947.7,462.5 969.0,465.0 990.2,459.4 1011.5,454.0 1032.8,457.6 1054.0,460.0 1075.3,465.8 1096.6,470.2 1117.8,469.5 1139.1,470.0 1160.4,469.8 1181.6,472.2 1202.9,474.5 1224.2,480.0 1245.4,479.2 1266.7,470.0 1288.0,465.1 1309.2,460.0 1330.5,430.0 1351.8,435.0 1373.0,444.4 1394.3,450.0 1415.5,442.4 1436.8,432.0 1458.1,446.8 1479.3,462.0 1500.6,465.2 1521.9,470.0 1543.1,473.4 1564.4,480.0 1585.7,474.2 1606.9,470.0 1628.2,470.0 1649.5,470.0" fill="none" stroke="#1a8090" stroke-width="2.2" stroke-linejoin="round" marker-start="url(#m1)" marker-mid="url(#m1)" marker-end="url(#m1)"/><polyline points="288.5,497.0 309.8,491.9 331.0,505.3 352.3,486.2 373.6,495.1 394.8,507.9 416.1,516.8 437.4,520.6 458.6,534.0 479.9,536.8 501.1,536.3 522.4,545.0 543.7,548.0 564.9,541.1 586.2,525.0 607.5,496.5 628.7,465.0 650.0,456.4 671.3,451.7 692.5,460.0 713.8,480.0 735.1,501.1 756.3,510.7 777.6,524.4 798.9,538.0 820.1,571.0 841.4,555.0 862.7,549.0 883.9,555.0 905.2,560.0 926.5,563.0 947.7,537.0 969.0,520.0 990.2,509.9 1011.5,500.0 1032.8,490.6 1054.0,480.0 1075.3,468.6 1096.6,456.0 1117.8,449.9 1139.1,445.0 1160.4,439.2 1181.6,436.0 1202.9,461.4 1224.2,490.0 1245.4,563.0 1266.7,597.0 1288.0,643.0 1309.2,602.0 1330.5,576.0 1351.8,561.0 1373.0,556.0 1394.3,592.0 1415.5,639.0 1436.8,659.0 1458.1,664.0 1479.3,666.0 1500.6,666.0 1521.9,650.0 1543.1,622.0 1564.4,612.0 1585.7,605.0 1606.9,600.0 1628.2,597.0 1649.5,594.0" fill="none" stroke="#c0bc00" stroke-width="2.2" stroke-linejoin="round" marker-start="url(#m2)" marker-mid="url(#m2)" marker-end="url(#m2)"/><polyline points="288.5,496.0 309.8,498.1 331.0,505.6 352.3,488.8 373.6,500.2 394.8,504.6 416.1,512.7 437.4,518.8 458.6,532.0 479.9,536.0 501.1,537.4 522.4,541.6 543.7,548.0 564.9,546.1 586.2,535.0 607.5,513.5 628.7,465.0 650.0,458.9 671.3,456.7 692.5,467.5 713.8,490.0 735.1,515.7 756.3,530.0 777.6,551.0 798.9,539.0 820.1,537.0 841.4,536.0 862.7,532.4 883.9,531.0 905.2,527.0 926.5,521.0 947.7,514.0 969.0,512.0 990.2,516.9 1011.5,522.0 1032.8,522.6 1054.0,522.0 1075.3,519.1 1096.6,515.0 1117.8,516.9 1139.1,520.0 1160.4,516.2 1181.6,515.0 1202.9,515.9 1224.2,520.0 1245.4,525.2 1266.7,522.0 1288.0,522.0 1309.2,522.0 1330.5,522.6 1351.8,522.0 1373.0,531.4 1394.3,537.0 1415.5,550.0 1436.8,587.0 1458.1,610.0 1479.3,622.0 1500.6,620.0 1521.9,616.0 1543.1,605.0 1564.4,594.0 1585.7,607.0 1606.9,600.0 1628.2,582.0 1649.5,597.0" fill="none" stroke="#0a800a" stroke-width="2.2" stroke-linejoin="round" marker-start="url(#m3)" marker-mid="url(#m3)" marker-end="url(#m3)"/><polyline points="288.5,498.0 309.8,500.5 331.0,501.6 352.3,490.8 373.6,501.6 394.8,505.0 416.1,521.3 437.4,532.3 458.6,530.0 479.9,532.3 501.1,539.5 522.4,543.0 543.7,545.0 564.9,538.1 586.2,522.0 607.5,491.5 628.7,455.0 650.0,441.9 671.3,432.7 692.5,436.5 713.8,452.0 735.1,456.2 756.3,449.0 777.6,449.0 798.9,462.0 820.1,463.0 841.4,465.0 862.7,466.4 883.9,470.0 905.2,466.2 926.5,460.0 947.7,453.0 969.0,455.0 990.2,449.0 1011.5,462.0 1032.8,485.0 1054.0,511.0 1075.3,535.0 1096.6,548.0 1117.8,570.0 1139.1,545.0 1160.4,505.0 1181.6,490.0 1202.9,484.4 1224.2,482.0 1245.4,500.0 1266.7,548.0 1288.0,510.0 1309.2,498.0 1330.5,475.0 1351.8,467.0 1373.0,444.0 1394.3,467.0 1415.5,540.0 1436.8,597.0 1458.1,582.0 1479.3,560.0 1500.6,580.0 1521.9,600.0 1543.1,620.0 1564.4,650.0 1585.7,689.0 1606.9,721.0 1628.2,734.0 1649.5,744.0" fill="none" stroke="#ff8010" stroke-width="2.2" stroke-linejoin="round" marker-start="url(#m4)" marker-mid="url(#m4)" marker-end="url(#m4)"/><polyline points="288.5,497.0 309.8,500.6 331.0,497.9 352.3,485.0 373.6,495.0 394.8,507.6 416.1,516.5 437.4,522.8 458.6,581.0 479.9,563.0 501.1,543.0 522.4,544.9 543.7,548.0 564.9,553.6 586.2,550.0 607.5,531.5 628.7,455.0 650.0,430.0 671.3,409.0 692.5,429.0 713.8,450.0 735.1,500.0 756.3,546.0 777.6,561.0 798.9,561.0 820.1,563.0 841.4,571.0 862.7,583.0 883.9,582.0 905.2,563.0 926.5,556.0 947.7,545.0 969.0,480.0 990.2,432.0 1011.5,454.0 1032.8,435.0 1054.0,465.0 1075.3,510.0 1096.6,548.0 1117.8,530.0 1139.1,532.0 1160.4,524.7 1181.6,520.0 1202.9,483.4 1224.2,450.0 1245.4,440.0 1266.7,444.0 1288.0,435.0 1309.2,423.0 1330.5,421.0 1351.8,447.0 1373.0,485.0 1394.3,514.0 1415.5,522.0 1436.8,530.0 1458.1,500.0 1479.3,503.0 1500.6,500.0 1521.9,500.0 1543.1,500.0 1564.4,495.0 1585.7,500.0 1606.9,510.0 1628.2,530.0 1649.5,550.0" fill="none" stroke="#10ff10" stroke-width="2.2" stroke-linejoin="round" marker-start="url(#m5)" marker-mid="url(#m5)" marker-end="url(#m5)"/><polyline points="288.5,495.0 309.8,496.9 331.0,500.8 352.3,487.1 373.6,498.7 394.8,502.0 416.1,503.0 437.4,528.5 458.6,533.0 479.9,534.2 501.1,540.5 522.4,555.0 543.7,548.0 564.9,542.1 586.2,527.0 607.5,493.5 628.7,465.0 650.0,453.9 671.3,446.7 692.5,452.5 713.8,470.0 735.1,499.2 756.3,517.0 777.6,529.0 798.9,522.0 820.1,523.0 841.4,525.0 862.7,524.9 883.9,527.0 905.2,532.0 926.5,537.0 947.7,548.0 969.0,545.0 990.2,535.0 1011.5,535.0 1032.8,536.0 1054.0,535.0 1075.3,515.0 1096.6,520.0 1117.8,524.4 1139.1,530.0 1160.4,533.7 1181.6,540.0 1202.9,525.9 1224.2,515.0 1245.4,530.0 1266.7,569.0 1288.0,627.0 1309.2,658.0 1330.5,675.0 1351.8,713.0 1373.0,724.0 1394.3,720.0 1415.5,707.0 1436.8,600.0 1458.1,493.0 1479.3,481.0 1500.6,500.0 1521.9,547.0 1543.1,519.0 1564.4,522.0 1585.7,522.0 1606.9,542.0 1628.2,648.0 1649.5,660.0" fill="none" stroke="#800080" stroke-width="2.2" stroke-linejoin="round" marker-start="url(#m6)" marker-mid="url(#m6)" marker-end="url(#m6)"/><polyline points="288.5,496.0 309.8,501.1 331.0,505.5 352.3,493.5 373.6,499.5 394.8,499.5 416.1,520.7 437.4,529.0 458.6,532.0 479.9,538.0 501.1,540.5 522.4,544.3 543.7,548.0 564.9,547.6 586.2,538.0 607.5,506.5 628.7,460.0 650.0,450.1 671.3,444.2 692.5,451.2 713.8,470.0 735.1,505.0 756.3,550.0 777.6,565.0 798.9,579.0 820.1,587.0 841.4,597.0 862.7,602.0 883.9,597.0 905.2,605.0 926.5,566.0 947.7,532.0 969.0,510.0 990.2,489.9 1011.5,470.0 1032.8,465.6 1054.0,460.0 1075.3,458.3 1096.6,455.2 1117.8,447.0 1139.1,440.0 1160.4,426.0 1181.6,428.0 1202.9,421.0 1224.2,436.0 1245.4,457.2 1266.7,470.0 1288.0,485.1 1309.2,500.0 1330.5,505.6 1351.8,510.0 1373.0,509.0 1394.3,519.0 1415.5,512.0 1436.8,512.0 1458.1,558.0 1479.3,626.0 1500.6,640.0 1521.9,640.0 1543.1,600.0 1564.4,570.0 1585.7,555.0 1606.9,540.0 1628.2,545.0 1649.5,560.0" fill="none" stroke="#20ff90" stroke-width="2.2" stroke-linejoin="round" marker-start="url(#m7)" marker-mid="url(#m7)" marker-end="url(#m7)"/><polyline points="288.5,494.0 309.8,493.9 331.0,505.2 352.3,489.3 373.6,495.6 394.8,498.5 416.1,520.6 437.4,547.0 458.6,535.0 479.9,538.3 501.1,532.4 522.4,546.6 543.7,528.0 564.9,521.1 586.2,505.0 607.5,461.5 628.7,431.0 650.0,424.0 671.3,425.0 692.5,415.0 713.8,439.0 735.1,452.7 756.3,455.0 777.6,458.5 798.9,462.0 820.1,465.5 841.4,470.0 862.7,471.4 883.9,475.0 905.2,474.7 926.5,472.0 947.7,468.5 969.0,474.0 990.2,475.9 1011.5,478.0 1032.8,479.6 1054.0,480.0 1075.3,483.1 1096.6,485.0 1117.8,486.9 1139.1,490.0 1160.4,496.2 1181.6,505.0 1202.9,522.0 1224.2,561.0 1245.4,579.0 1266.7,585.0 1288.0,587.0 1309.2,595.0 1330.5,614.0 1351.8,633.0 1373.0,638.0 1394.3,600.0 1415.5,569.0 1436.8,565.0 1458.1,566.0 1479.3,579.0 1500.6,610.0 1521.9,585.0 1543.1,560.0 1564.4,555.0 1585.7,550.0 1606.9,545.0 1628.2,557.0 1649.5,572.0" fill="none" stroke="#ff10ff" stroke-width="2.2" stroke-linejoin="round" marker-start="url(#m8)" marker-mid="url(#m8)" marker-end="url(#m8)"/><polyline points="288.5,498.0 309.8,495.9 331.0,498.4 352.3,486.5 373.6,500.5 394.8,506.6 416.1,512.5 437.4,523.3 458.6,535.0 479.9,534.5 501.1,531.9 522.4,545.8 543.7,560.0 564.9,575.0 586.2,579.0 607.5,540.0 628.7,470.0 650.0,470.5 671.3,475.0 692.5,504.0 713.8,525.0 735.1,520.0 756.3,510.0 777.6,522.5 798.9,535.0 820.1,579.0 841.4,582.0 862.7,560.0 883.9,550.0 905.2,548.7 926.5,545.0 947.7,533.0 969.0,530.0 990.2,524.9 1011.5,520.0 1032.8,520.6 1054.0,520.0 1075.3,515.6 1096.6,510.0 1117.8,504.4 1139.1,500.0 1160.4,493.7 1181.6,490.0 1202.9,503.4 1224.2,520.0 1245.4,560.0 1266.7,580.0 1288.0,623.0 1309.2,687.0 1330.5,715.0 1351.8,707.0 1373.0,687.0 1394.3,680.0 1415.5,672.0 1436.8,653.0 1458.1,640.0 1479.3,626.0 1500.6,632.0 1521.9,657.0 1543.1,655.0 1564.4,660.0 1585.7,660.0 1606.9,655.0 1628.2,662.0 1649.5,663.0" fill="none" stroke="#90ff20" stroke-width="2.2" stroke-linejoin="round" marker-start="url(#m9)" marker-mid="url(#m9)" marker-end="url(#m9)"/><polyline points="288.5,497.0 309.8,500.6 331.0,506.7 352.3,488.7 373.6,502.8 394.8,501.0 416.1,512.9 437.4,579.0 458.6,567.0 479.9,549.0 501.1,543.0 522.4,544.6 543.7,548.0 564.9,556.1 586.2,555.0 607.5,536.5 628.7,460.0 650.0,448.1 671.3,440.2 692.5,445.2 713.8,462.0 735.1,467.7 756.3,462.0 777.6,473.5 798.9,485.0 820.1,482.0 841.4,480.0 862.7,487.4 883.9,497.0 905.2,499.7 926.5,500.0 947.7,485.5 969.0,480.0 990.2,477.4 1011.5,475.0 1032.8,470.6 1054.0,465.0 1075.3,468.1 1096.6,470.0 1117.8,510.0 1139.1,478.0 1160.4,452.0 1181.6,428.0 1202.9,416.0 1224.2,410.0 1245.4,436.0 1266.7,452.0 1288.0,445.0 1309.2,480.0 1330.5,561.0 1351.8,640.0 1373.0,685.0 1394.3,690.0 1415.5,672.0 1436.8,683.0 1458.1,673.0 1479.3,632.0 1500.6,616.0 1521.9,640.0 1543.1,645.0 1564.4,648.0 1585.7,660.0 1606.9,625.0 1628.2,570.0 1649.5,518.0" fill="none" stroke="#1080ff" stroke-width="2.2" stroke-linejoin="round" marker-start="url(#m10)" marker-mid="url(#m10)" marker-end="url(#m10)"/><polyline points="288.5,495.0 309.8,492.1 331.0,498.9 352.3,487.7 373.6,498.9 394.8,499.5 416.1,512.5 437.4,495.0 458.6,525.0 479.9,537.1 501.1,534.6 522.4,548.2 543.7,540.0 564.9,532.1 586.2,515.0 607.5,476.5 628.7,450.0 650.0,438.9 671.3,431.7 692.5,437.5 713.8,455.0 735.1,460.1 756.3,453.7 777.6,451.4 798.9,449.0 820.1,451.5 841.4,455.0 862.7,455.4 883.9,458.0 905.2,461.2 926.5,462.0 947.7,481.5 969.0,510.0 990.2,532.0 1011.5,548.0 1032.8,550.0 1054.0,545.0 1075.3,550.0 1096.6,558.0 1117.8,565.0 1139.1,576.0 1160.4,568.0 1181.6,545.0 1202.9,560.0 1224.2,581.0 1245.4,592.0 1266.7,580.0 1288.0,540.0 1309.2,560.0 1330.5,600.0 1351.8,647.0 1373.0,658.0 1394.3,646.0 1415.5,683.0 1436.8,718.0 1458.1,718.0 1479.3,690.0 1500.6,682.0 1521.9,665.0 1543.1,663.0 1564.4,651.0 1585.7,640.0 1606.9,625.0 1628.2,570.0 1649.5,548.0" fill="none" stroke="#8080ff" stroke-width="2.2" stroke-linejoin="round" marker-start="url(#m11)" marker-mid="url(#m11)" marker-end="url(#m11)"/><polyline points="288.5,496.0 309.8,500.8 331.0,500.7 352.3,488.2 373.6,498.0 394.8,504.3 416.1,518.1 437.4,525.9 458.6,534.0 479.9,534.0 501.1,537.7 522.4,548.0 543.7,548.0 564.9,538.6 586.2,520.0 607.5,486.5 628.7,455.0 650.0,440.1 671.3,429.2 692.5,431.2 713.8,445.0 735.1,454.1 756.3,451.7 777.6,453.4 798.9,455.0 820.1,464.8 841.4,475.6 862.7,471.8 883.9,470.0 905.2,471.5 926.5,470.6 947.7,465.8 969.0,470.0 990.2,470.2 1011.5,470.6 1032.8,471.0 1054.0,470.0 1075.3,473.3 1096.6,475.2 1117.8,472.0 1139.1,470.0 1160.4,464.8 1181.6,462.2 1202.9,459.5 1224.2,460.0 1245.4,468.2 1266.7,468.0 1288.0,469.1 1309.2,470.0 1330.5,478.9 1351.8,486.6 1373.0,490.2 1394.3,490.0 1415.5,495.1 1436.8,497.4 1458.1,498.4 1479.3,500.0 1500.6,509.2 1521.9,520.0 1543.1,528.4 1564.4,540.0 1585.7,529.2 1606.9,520.0 1628.2,512.5 1649.5,505.0" fill="none" stroke="#90ff90" stroke-width="2.2" stroke-linejoin="round" marker-start="url(#m12)" marker-mid="url(#m12)" marker-end="url(#m12)"/><polyline points="288.5,496.0 309.8,496.1 331.0,504.1 352.3,486.0 373.6,495.8 394.8,507.7 416.1,517.3 437.4,527.0 458.6,532.0 479.9,533.9 501.1,531.6 522.4,542.8 543.7,545.0 564.9,539.6 586.2,525.0 607.5,489.5 628.7,458.0 650.0,446.6 671.3,439.2 692.5,444.8 713.8,462.0 735.1,470.1 756.3,466.7 777.6,467.4 798.9,468.0 820.1,474.6 841.4,482.1 862.7,475.0 883.9,470.0 905.2,474.0 926.5,475.6 947.7,473.3 969.0,480.0 990.2,482.7 1011.5,485.6 1032.8,488.5 1054.0,490.0 1075.3,493.3 1096.6,495.2 1117.8,492.0 1139.1,490.0 1160.4,484.8 1181.6,482.2 1202.9,479.5 1224.2,480.0 1245.4,483.2 1266.7,478.0 1288.0,474.1 1309.2,470.0 1330.5,476.4 1351.8,481.6 1373.0,482.7 1394.3,480.0 1415.5,480.4 1436.8,478.0 1458.1,473.8 1479.3,470.0 1500.6,465.0 1521.9,452.0 1543.1,430.0 1564.4,411.0 1585.7,410.0 1606.9,424.0 1628.2,424.0 1649.5,424.0" fill="none" stroke="#8a8aff" stroke-width="2.2" stroke-linejoin="round" marker-start="url(#m13)" marker-mid="url(#m13)" marker-end="url(#m13)"/><polyline points="288.5,497.0 309.8,492.0 331.0,503.1 352.3,489.9 373.6,493.4 394.8,504.2 416.1,516.8 437.4,563.0 458.6,540.0 479.9,535.2 501.1,535.0 522.4,545.7 543.7,548.0 564.9,543.6 586.2,530.0 607.5,496.5 628.7,462.0 650.0,451.6 671.3,445.2 692.5,451.8 713.8,470.0 735.1,487.9 756.3,494.5 777.6,505.0 798.9,510.0 820.1,530.0 841.4,562.0 862.7,540.0 883.9,545.0 905.2,538.7 926.5,530.0 947.7,520.5 969.0,520.0 990.2,514.9 1011.5,510.0 1032.8,505.6 1054.0,500.0 1075.3,495.6 1096.6,490.0 1117.8,484.4 1139.1,480.0 1160.4,473.7 1181.6,470.0 1202.9,470.9 1224.2,475.0 1245.4,471.8 1266.7,460.0 1288.0,465.1 1309.2,470.0 1330.5,470.6 1351.8,470.0 1373.0,473.4 1394.3,473.0 1415.5,478.0 1436.8,467.0 1458.1,452.0 1479.3,448.0 1500.6,447.0 1521.9,449.0 1543.1,462.0 1564.4,471.0 1585.7,484.0 1606.9,512.0 1628.2,525.0 1649.5,506.0" fill="none" stroke="#e0b040" stroke-width="2.2" stroke-linejoin="round" marker-start="url(#m14)" marker-mid="url(#m14)" marker-end="url(#m14)"/><polyline points="288.5,497.0 309.8,499.2 331.0,497.1 352.3,484.2 373.6,499.6 394.8,507.5 416.1,514.6 437.4,523.8 458.6,534.0 479.9,533.0 501.1,537.4 522.4,541.8 543.7,548.0 564.9,545.1 586.2,533.0 607.5,509.5 628.7,462.0 650.0,454.1 671.3,450.2 692.5,459.2 713.8,480.0 735.1,494.1 756.3,496.7 777.6,503.4 798.9,510.0 820.1,518.6 841.4,528.1 862.7,523.0 883.9,520.0 905.2,522.8 926.5,523.1 947.7,519.5 969.0,525.0 990.2,524.0 1011.5,523.1 1032.8,522.2 1054.0,520.0 1075.3,518.1 1096.6,515.0 1117.8,516.9 1139.1,520.0 1160.4,521.2 1181.6,525.0 1202.9,520.9 1224.2,520.0 1245.4,528.2 1266.7,528.0 1288.0,529.0 1309.2,530.0 1330.5,530.6 1351.8,530.0 1373.0,529.4 1394.3,525.0 1415.5,526.4 1436.8,525.0 1458.1,530.0 1479.3,556.0 1500.6,582.0 1521.9,588.0 1543.1,580.0 1564.4,575.0 1585.7,572.0 1606.9,569.0 1628.2,574.0 1649.5,580.0" fill="none" stroke="#80a010" stroke-width="2.2" stroke-linejoin="round" marker-start="url(#m15)" marker-mid="url(#m15)" marker-end="url(#m15)"/><polyline points="288.5,497.0 309.8,516.0 331.0,514.0 352.3,492.0 373.6,495.9 394.8,501.6 416.1,518.1 437.4,518.7 458.6,540.0 479.9,531.4 501.1,535.3 522.4,546.3 543.7,564.0 564.9,583.0 586.2,553.0 607.5,504.0 628.7,476.0 650.0,485.0 671.3,483.0 692.5,470.0 713.8,522.0 735.1,622.0 756.3,549.0 777.6,553.0 798.9,593.0 820.1,598.0 841.4,635.0 862.7,648.0 883.9,666.0 905.2,672.0 926.5,666.0 947.7,655.0 969.0,655.0 990.2,635.0 1011.5,636.0 1032.8,641.0 1054.0,645.0 1075.3,659.0 1096.6,665.0 1117.8,658.0 1139.1,639.0 1160.4,622.0 1181.6,598.0 1202.9,561.0 1224.2,550.0 1245.4,504.0 1266.7,480.0 1288.0,462.0 1309.2,452.0 1330.5,446.0 1351.8,446.0 1373.0,455.0 1394.3,452.0 1415.5,452.4 1436.8,450.0 1458.1,459.8 1479.3,470.0 1500.6,494.2 1521.9,520.0 1543.1,538.4 1564.4,560.0 1585.7,569.2 1606.9,580.0 1628.2,585.0 1649.5,590.0" fill="none" stroke="#0d6585" stroke-width="2.2" stroke-linejoin="round" marker-start="url(#m16)" marker-mid="url(#m16)" marker-end="url(#m16)"/><polyline points="288.5,497.0 309.8,497.5 331.0,504.3 352.3,486.7 373.6,495.0 394.8,505.9 416.1,514.5 437.4,519.8 458.6,534.0 479.9,530.3 501.1,535.9 522.4,545.6 543.7,548.0 564.9,549.6 586.2,542.0 607.5,519.5 628.7,465.0 650.0,456.4 671.3,451.7 692.5,460.0 713.8,480.0 735.1,498.2 756.3,505.0 777.6,514.0 798.9,543.0 820.1,613.0 841.4,665.0 862.7,595.0 883.9,541.0 905.2,520.0 926.5,510.0 947.7,500.5 969.0,500.0 990.2,499.9 1011.5,500.0 1032.8,498.1 1054.0,495.0 1075.3,493.1 1096.6,490.0 1117.8,489.4 1139.1,490.0 1160.4,491.2 1181.6,495.0 1202.9,495.9 1224.2,500.0 1245.4,506.8 1266.7,505.0 1288.0,507.6 1309.2,510.0 1330.5,513.1 1351.8,515.0 1373.0,519.4 1394.3,520.0 1415.5,531.4 1436.8,540.0 1458.1,549.8 1479.3,560.0 1500.6,566.7 1521.9,575.0 1543.1,580.9 1564.4,590.0 1585.7,594.2 1606.9,600.0 1628.2,600.0 1649.5,600.0" fill="none" stroke="#607a80" stroke-width="2.2" stroke-linejoin="round" marker-start="url(#m17)" marker-mid="url(#m17)" marker-end="url(#m17)"/><polyline points="288.5,495.0 309.8,495.0 331.0,500.2 352.3,491.9 373.6,497.2 394.8,506.5 416.1,513.8 437.4,525.1 458.6,533.0 479.9,531.8 501.1,538.0 522.4,547.4 543.7,548.0 564.9,537.6 586.2,518.0 607.5,481.5 628.7,458.0 650.0,443.6 671.3,433.2 692.5,435.8 713.8,450.0 735.1,445.0 756.3,442.0 777.6,442.0 798.9,460.0 820.1,460.0 841.4,442.0 862.7,460.0 883.9,470.0 905.2,467.0 926.5,452.0 947.7,443.0 969.0,445.0 990.2,444.0 1011.5,440.0 1032.8,441.0 1054.0,447.0 1075.3,446.0 1096.6,442.0 1117.8,442.9 1139.1,445.0 1160.4,446.2 1181.6,450.0 1202.9,453.4 1224.2,460.0 1245.4,478.2 1266.7,488.0 1288.0,504.0 1309.2,501.0 1330.5,509.0 1351.8,511.0 1373.0,488.0 1394.3,475.0 1415.5,474.0 1436.8,478.0 1458.1,473.8 1479.3,470.0 1500.6,471.7 1521.9,475.0 1543.1,478.9 1564.4,486.0 1585.7,487.2 1606.9,490.0 1628.2,488.0 1649.5,486.0" fill="none" stroke="#806068" stroke-width="2.2" stroke-linejoin="round" marker-start="url(#m18)" marker-mid="url(#m18)" marker-end="url(#m18)"/><polyline points="288.5,495.0 309.8,494.1 331.0,498.1 352.3,488.9 373.6,494.7 394.8,506.0 416.1,520.5 437.4,527.9 458.6,528.0 479.9,530.2 501.1,534.3 522.4,546.7 543.7,545.0 564.9,532.1 586.2,510.0 607.5,470.0 628.7,424.0 650.0,416.0 671.3,420.0 692.5,430.0 713.8,450.0 735.1,460.7 756.3,460.0 777.6,465.0 798.9,470.0 820.1,474.5 841.4,480.0 862.7,481.4 883.9,485.0 905.2,488.7 926.5,490.0 947.7,490.5 969.0,500.0 990.2,504.9 1011.5,510.0 1032.8,515.6 1054.0,520.0 1075.3,529.6 1096.6,538.0 1117.8,530.0 1139.1,528.0 1160.4,541.0 1181.6,570.0 1202.9,587.0 1224.2,607.0 1245.4,660.0 1266.7,707.0 1288.0,717.0 1309.2,742.0 1330.5,753.0 1351.8,738.0 1373.0,700.0 1394.3,653.0 1415.5,637.0 1436.8,623.0 1458.1,618.0 1479.3,612.0 1500.6,620.0 1521.9,640.0 1543.1,650.0 1564.4,640.0 1585.7,630.0 1606.9,625.0 1628.2,620.0 1649.5,620.0" fill="none" stroke="#c4c4c4" stroke-width="2.2" stroke-linejoin="round" marker-start="url(#m19)" marker-mid="url(#m19)" marker-end="url(#m19)"/><polyline points="288.5,496.0 309.8,499.9 331.0,500.4 352.3,484.9 373.6,495.7 394.8,505.8 416.1,514.8 437.4,524.4 458.6,535.0 479.9,531.9 501.1,535.7 522.4,542.8 543.7,550.0 564.9,535.6 586.2,512.0 607.5,473.5 628.7,465.0 650.0,453.9 671.3,446.7 692.5,452.5 713.8,470.0 735.1,479.1 756.3,476.7 777.6,478.4 798.9,480.0 820.1,487.3 841.4,495.6 862.7,489.3 883.9,485.0 905.2,488.7 926.5,490.0 947.7,500.5 969.0,520.0 990.2,560.0 1011.5,560.0 1032.8,560.0 1054.0,512.0 1075.3,506.6 1096.6,500.0 1117.8,504.4 1139.1,510.0 1160.4,503.7 1181.6,500.0 1202.9,490.9 1224.2,485.0 1245.4,496.8 1266.7,500.0 1288.0,507.6 1309.2,515.0 1330.5,515.0 1351.8,615.0 1373.0,525.0 1394.3,480.0 1415.5,481.4 1436.8,480.0 1458.1,484.8 1479.3,490.0 1500.6,494.2 1521.9,500.0 1543.1,528.4 1564.4,560.0 1585.7,530.0 1606.9,510.0 1628.2,460.0 1649.5,455.0" fill="none" stroke="#8c8c8c" stroke-width="2.2" stroke-linejoin="round" marker-start="url(#m20)" marker-mid="url(#m20)" marker-end="url(#m20)"/></g><g><polygon points="309.8,781.2 331.0,806.4 352.3,842.6 373.6,846.5 394.8,792.2 416.1,790.6 437.4,834.7 458.6,847.2 479.9,848.9 501.1,849.6 522.4,849.9 543.7,849.9 564.9,847.0 586.2,844.1 607.5,822.2 628.7,815.0 650.0,816.4 671.3,835.4 692.5,844.8 713.8,847.0 735.1,848.5 756.3,849.2 777.6,849.9 798.9,849.9 820.1,849.9 841.4,849.9 862.7,849.7 883.9,849.4 905.2,849.4 926.5,846.8 947.7,845.0 969.0,848.6 990.2,834.5 1011.5,845.9 1032.8,843.2 1054.0,840.6 1075.3,843.2 1096.6,845.0 1117.8,845.9 1139.1,847.2 1160.4,848.6 1181.6,848.6 1202.9,847.7 1224.2,840.6 1245.4,842.4 1266.7,844.2 1288.0,845.9 1309.2,845.0 1330.5,845.9 1351.8,839.8 1373.0,822.2 1394.3,826.2 1415.5,838.0 1436.8,833.2 1458.1,835.1 1479.3,834.1 1500.6,839.9 1521.9,843.8 1543.1,842.9 1564.4,846.8 1585.7,833.2 1606.9,843.8 1628.2,840.9 1649.5,851.6 1649.5,859.2 1628.2,848.5 1606.9,851.4 1585.7,840.8 1564.4,854.4 1543.1,850.5 1521.9,851.4 1500.6,847.5 1479.3,841.7 1458.1,842.7 1436.8,840.8 1415.5,845.6 1394.3,833.8 1373.0,829.8 1351.8,847.4 1330.5,853.5 1309.2,852.6 1288.0,853.5 1266.7,851.8 1245.4,850.0 1224.2,848.2 1202.9,855.3 1181.6,856.2 1160.4,856.2 1139.1,854.8 1117.8,853.5 1096.6,852.6 1075.3,850.8 1054.0,848.2 1032.8,850.8 1011.5,853.5 990.2,842.1 969.0,856.2 947.7,852.6 926.5,854.4 905.2,857.0 883.9,857.0 862.7,857.3 841.4,857.5 820.1,857.5 798.9,857.5 777.6,857.5 756.3,856.8 735.1,856.1 713.8,854.6 692.5,852.4 671.3,843.0 650.0,824.0 628.7,822.6 607.5,829.8 586.2,851.7 564.9,854.6 543.7,857.5 522.4,857.5 501.1,857.2 479.9,856.5 458.6,854.8 437.4,842.3 416.1,798.2 394.8,799.8 373.6,854.1 352.3,850.2 331.0,814.0 309.8,788.8" fill="#ff0000"/><polyline points="309.8,785.0 331.0,810.2 352.3,846.4 373.6,850.3 394.8,796.0 416.1,794.4 437.4,838.5 458.6,851.0 479.9,852.7 501.1,853.4 522.4,853.7 543.7,853.7 564.9,850.8 586.2,847.9 607.5,826.0 628.7,818.8 650.0,820.2 671.3,839.2 692.5,848.6 713.8,850.8 735.1,852.3 756.3,853.0 777.6,853.7 798.9,853.7 820.1,853.7 841.4,853.7 862.7,853.5 883.9,853.2 905.2,853.2 926.5,850.6 947.7,848.8 969.0,852.4 990.2,838.3 1011.5,849.7 1032.8,847.0 1054.0,844.4 1075.3,847.0 1096.6,848.8 1117.8,849.7 1139.1,851.0 1160.4,852.4 1181.6,852.4 1202.9,851.5 1224.2,844.4 1245.4,846.2 1266.7,848.0 1288.0,849.7 1309.2,848.8 1330.5,849.7 1351.8,843.6 1373.0,826.0 1394.3,830.0 1415.5,841.8 1436.8,837.0 1458.1,838.9 1479.3,837.9 1500.6,843.7 1521.9,847.6 1543.1,846.7 1564.4,850.6 1585.7,837.0 1606.9,847.6 1628.2,844.7 1649.5,855.4" fill="none" stroke="#ff0000" stroke-width="2.4" stroke-linejoin="round" stroke-linecap="round"/><polygon points="288.5,105.3 309.8,130.5 331.0,128.9 352.3,110.0 373.6,91.2 394.8,114.0 416.1,166.2 437.4,218.2 458.6,230.2 479.9,231.8 501.1,225.1 522.4,217.2 543.7,207.2 564.9,199.2 586.2,189.2 607.5,178.2 628.7,170.6 650.0,174.0 671.3,194.5 692.5,208.2 713.8,206.2 735.1,215.6 756.3,209.2 777.6,203.2 798.9,194.2 820.1,197.5 841.4,183.2 862.7,171.6 883.9,170.2 905.2,169.0 926.5,163.8 947.7,153.4 969.0,145.2 990.2,142.5 1011.5,142.5 1032.8,139.9 1054.0,139.9 1075.3,146.4 1096.6,147.7 1117.8,145.1 1139.1,147.7 1160.4,151.6 1181.6,145.1 1202.9,142.5 1224.2,157.2 1245.4,171.8 1266.7,179.5 1288.0,184.7 1309.2,189.9 1330.5,200.2 1351.8,197.7 1373.0,196.4 1394.3,199.0 1415.5,202.9 1436.8,196.4 1458.1,189.9 1479.3,203.7 1500.6,216.2 1521.9,216.2 1543.1,211.4 1564.4,205.1 1585.7,206.7 1606.9,208.2 1628.2,206.7 1649.5,207.6 1649.5,215.2 1628.2,214.3 1606.9,215.8 1585.7,214.3 1564.4,212.7 1543.1,219.0 1521.9,223.8 1500.6,223.8 1479.3,211.3 1458.1,197.5 1436.8,204.0 1415.5,210.5 1394.3,206.6 1373.0,204.0 1351.8,205.3 1330.5,207.8 1309.2,197.5 1288.0,192.3 1266.7,187.1 1245.4,179.4 1224.2,164.8 1202.9,150.1 1181.6,152.7 1160.4,159.2 1139.1,155.3 1117.8,152.7 1096.6,155.3 1075.3,154.0 1054.0,147.5 1032.8,147.5 1011.5,150.1 990.2,150.1 969.0,152.8 947.7,161.0 926.5,171.4 905.2,176.6 883.9,177.8 862.7,179.2 841.4,190.8 820.1,205.1 798.9,201.8 777.6,210.8 756.3,216.8 735.1,223.2 713.8,213.8 692.5,215.8 671.3,202.1 650.0,181.6 628.7,178.2 607.5,185.8 586.2,196.8 564.9,206.8 543.7,214.8 522.4,224.8 501.1,232.7 479.9,239.4 458.6,237.8 437.4,225.8 416.1,173.8 394.8,121.6 373.6,98.8 352.3,117.6 331.0,136.5 309.8,138.1 288.5,112.9" fill="#ff0000"/><polyline points="288.5,109.1 309.8,134.3 331.0,132.7 352.3,113.8 373.6,95.0 394.8,117.8 416.1,170.0 437.4,222.0 458.6,234.0 479.9,235.6 501.1,228.9 522.4,221.0 543.7,211.0 564.9,203.0 586.2,193.0 607.5,182.0 628.7,174.4 650.0,177.8 671.3,198.3 692.5,212.0 713.8,210.0 735.1,219.4 756.3,213.0 777.6,207.0 798.9,198.0 820.1,201.3 841.4,187.0 862.7,175.4 883.9,174.0 905.2,172.8 926.5,167.6 947.7,157.2 969.0,149.0 990.2,146.3 1011.5,146.3 1032.8,143.7 1054.0,143.7 1075.3,150.2 1096.6,151.5 1117.8,148.9 1139.1,151.5 1160.4,155.4 1181.6,148.9 1202.9,146.3 1224.2,161.0 1245.4,175.6 1266.7,183.3 1288.0,188.5 1309.2,193.7 1330.5,204.0 1351.8,201.5 1373.0,200.2 1394.3,202.8 1415.5,206.7 1436.8,200.2 1458.1,193.7 1479.3,207.5 1500.6,220.0 1521.9,220.0 1543.1,215.2 1564.4,208.9 1585.7,210.5 1606.9,212.0 1628.2,210.5 1649.5,211.4" fill="none" stroke="#ff0000" stroke-width="2.4" stroke-linejoin="round" stroke-linecap="round"/><polygon points="288.5,491.9 309.8,493.0 331.0,498.1 352.3,484.8 373.6,494.0 394.8,499.1 416.1,513.3 437.4,521.5 458.6,526.6 479.9,529.6 501.1,532.7 522.4,539.8 543.7,542.9 564.9,539.2 586.2,526.2 607.5,497.7 628.7,458.8 650.0,448.4 671.3,441.9 692.5,448.4 713.8,466.6 735.1,481.8 756.3,485.6 777.6,493.4 798.9,501.2 820.1,510.2 841.4,520.2 862.7,515.5 883.9,512.9 905.2,510.2 926.5,505.1 947.7,496.0 969.0,496.0 990.2,497.2 1011.5,498.6 1032.8,499.9 1054.0,499.9 1075.3,502.5 1096.6,503.8 1117.8,499.9 1139.1,497.2 1160.4,493.4 1181.6,492.2 1202.9,490.8 1224.2,492.7 1245.4,506.4 1266.7,511.6 1288.0,518.1 1309.2,524.5 1330.5,533.6 1351.8,541.4 1373.0,545.2 1394.3,545.2 1415.5,549.2 1436.8,550.5 1458.1,550.5 1479.3,551.0 1500.6,554.1 1521.9,558.8 1543.1,552.5 1564.4,549.4 1585.7,549.4 1606.9,551.0 1628.2,554.1 1649.5,557.2 1649.5,564.8 1628.2,561.7 1606.9,558.6 1585.7,557.0 1564.4,557.0 1543.1,560.1 1521.9,566.4 1500.6,561.7 1479.3,558.6 1458.1,558.1 1436.8,558.1 1415.5,556.8 1394.3,552.8 1373.0,552.8 1351.8,549.0 1330.5,541.2 1309.2,532.1 1288.0,525.7 1266.7,519.2 1245.4,514.0 1224.2,500.3 1202.9,498.4 1181.6,499.8 1160.4,501.0 1139.1,504.8 1117.8,507.5 1096.6,511.4 1075.3,510.1 1054.0,507.5 1032.8,507.5 1011.5,506.2 990.2,504.8 969.0,503.6 947.7,503.6 926.5,512.7 905.2,517.8 883.9,520.5 862.7,523.1 841.4,527.8 820.1,517.8 798.9,508.8 777.6,501.0 756.3,493.2 735.1,489.4 713.8,474.2 692.5,456.0 671.3,449.5 650.0,456.0 628.7,466.4 607.5,505.3 586.2,533.8 564.9,546.8 543.7,550.5 522.4,547.4 501.1,540.3 479.9,537.2 458.6,534.2 437.4,529.1 416.1,520.9 394.8,506.7 373.6,501.6 352.3,492.4 331.0,505.7 309.8,500.6 288.5,499.5" fill="#ff0000"/><polyline points="288.5,495.7 309.8,496.8 331.0,501.9 352.3,488.6 373.6,497.8 394.8,502.9 416.1,517.1 437.4,525.3 458.6,530.4 479.9,533.4 501.1,536.5 522.4,543.6 543.7,546.7 564.9,543.0 586.2,530.0 607.5,501.5 628.7,462.6 650.0,452.2 671.3,445.7 692.5,452.2 713.8,470.4 735.1,485.6 756.3,489.4 777.6,497.2 798.9,505.0 820.1,514.0 841.4,524.0 862.7,519.3 883.9,516.7 905.2,514.0 926.5,508.9 947.7,499.8 969.0,499.8 990.2,501.0 1011.5,502.4 1032.8,503.7 1054.0,503.7 1075.3,506.3 1096.6,507.6 1117.8,503.7 1139.1,501.0 1160.4,497.2 1181.6,496.0 1202.9,494.6 1224.2,496.5 1245.4,510.2 1266.7,515.4 1288.0,521.9 1309.2,528.3 1330.5,537.4 1351.8,545.2 1373.0,549.0 1394.3,549.0 1415.5,553.0 1436.8,554.3 1458.1,554.3 1479.3,554.8 1500.6,557.9 1521.9,562.6 1543.1,556.3 1564.4,553.2 1585.7,553.2 1606.9,554.8 1628.2,557.9 1649.5,561.0" fill="none" stroke="#ff0000" stroke-width="2.4" stroke-linejoin="round" stroke-linecap="round"/></g><g><rect x="255" y="1046" width="66" height="8" fill="#ff0000"/><text x="340" y="1058" font-size="24" fill="#000" textLength="267" lengthAdjust="spacingAndGlyphs">Moyenne des scénarios</text><rect x="660" y="1046" width="66" height="8" fill="#0000ff"/><text x="744" y="1058" font-size="24" fill="#000" textLength="190" lengthAdjust="spacingAndGlyphs">Run de contrôle</text><rect x="660" y="1068" width="66" height="8" fill="#000"/><text x="744" y="1079" font-size="24" fill="#000" textLength="88" lengthAdjust="spacingAndGlyphs">Run GFS</text><text x="966" y="1092" font-size="24" fill="#000" textLength="204" lengthAdjust="spacingAndGlyphs">2<tspan font-family="Liberation Sans">0</tspan> Perturbations</text><text x="1182.0" y="1071" font-size="15" font-weight="bold" fill="#000" textLength="19" lengthAdjust="spacingAndGlyphs"><tspan font-family="Liberation Sans">0</tspan>1</text><rect x="1181.0" y="1076.5" width="21" height="5" fill="#1a8090"/><text x="1205.2" y="1071" font-size="15" font-weight="bold" fill="#000" textLength="19" lengthAdjust="spacingAndGlyphs"><tspan font-family="Liberation Sans">0</tspan>2</text><rect x="1204.2" y="1076.5" width="21" height="5" fill="#c0bc00"/><text x="1228.4" y="1071" font-size="15" font-weight="bold" fill="#000" textLength="19" lengthAdjust="spacingAndGlyphs"><tspan font-family="Liberation Sans">0</tspan>3</text><rect x="1227.4" y="1076.5" width="21" height="5" fill="#0a800a"/><text x="1251.6" y="1071" font-size="15" font-weight="bold" fill="#000" textLength="19" lengthAdjust="spacingAndGlyphs"><tspan font-family="Liberation Sans">0</tspan>4</text><rect x="1250.6" y="1076.5" width="21" height="5" fill="#ff8010"/><text x="1274.8" y="1071" font-size="15" font-weight="bold" fill="#000" textLength="19" lengthAdjust="spacingAndGlyphs"><tspan font-family="Liberation Sans">0</tspan>5</text><rect x="1273.8" y="1076.5" width="21" height="5" fill="#10ff10"/><text x="1298.0" y="1071" font-size="15" font-weight="bold" fill="#000" textLength="19" lengthAdjust="spacingAndGlyphs"><tspan font-family="Liberation Sans">0</tspan>6</text><rect x="1297.0" y="1076.5" width="21" height="5" fill="#800080"/><text x="1321.2" y="1071" font-size="15" font-weight="bold" fill="#000" textLength="19" lengthAdjust="spacingAndGlyphs"><tspan font-family="Liberation Sans">0</tspan>7</text><rect x="1320.2" y="1076.5" width="21" height="5" fill="#20ff90"/><text x="1344.4" y="1071" font-size="15" font-weight="bold" fill="#000" textLength="19" lengthAdjust="spacingAndGlyphs"><tspan font-family="Liberation Sans">0</tspan>8</text><rect x="1343.4" y="1076.5" width="21" height="5" fill="#ff10ff"/><text x="1367.6" y="1071" font-size="15" font-weight="bold" fill="#000" textLength="19" lengthAdjust="spacingAndGlyphs"><tspan font-family="Liberation Sans">0</tspan>9</text><rect x="1366.6" y="1076.5" width="21" height="5" fill="#90ff20"/><text x="1390.8" y="1071" font-size="15" font-weight="bold" fill="#000" textLength="19" lengthAdjust="spacingAndGlyphs">1<tspan font-family="Liberation Sans">0</tspan></text><rect x="1389.8" y="1076.5" width="21" height="5" fill="#1080ff"/><text x="1414.0" y="1071" font-size="15" font-weight="bold" fill="#000" textLength="19" lengthAdjust="spacingAndGlyphs">11</text><rect x="1413.0" y="1076.5" width="21" height="5" fill="#8080ff"/><text x="1437.2" y="1071" font-size="15" font-weight="bold" fill="#000" textLength="19" lengthAdjust="spacingAndGlyphs">12</text><rect x="1436.2" y="1076.5" width="21" height="5" fill="#90ff90"/><text x="1460.4" y="1071" font-size="15" font-weight="bold" fill="#000" textLength="19" lengthAdjust="spacingAndGlyphs">13</text><rect x="1459.4" y="1076.5" width="21" height="5" fill="#8a8aff"/><text x="1483.6" y="1071" font-size="15" font-weight="bold" fill="#000" textLength="19" lengthAdjust="spacingAndGlyphs">14</text><rect x="1482.6" y="1076.5" width="21" height="5" fill="#e0b040"/><text x="1506.8" y="1071" font-size="15" font-weight="bold" fill="#000" textLength="19" lengthAdjust="spacingAndGlyphs">15</text><rect x="1505.8" y="1076.5" width="21" height="5" fill="#80a010"/><text x="1530.0" y="1071" font-size="15" font-weight="bold" fill="#000" textLength="19" lengthAdjust="spacingAndGlyphs">16</text><rect x="1529.0" y="1076.5" width="21" height="5" fill="#0d6585"/><text x="1553.2" y="1071" font-size="15" font-weight="bold" fill="#000" textLength="19" lengthAdjust="spacingAndGlyphs">17</text><rect x="1552.2" y="1076.5" width="21" height="5" fill="#607a80"/><text x="1576.4" y="1071" font-size="15" font-weight="bold" fill="#000" textLength="19" lengthAdjust="spacingAndGlyphs">18</text><rect x="1575.4" y="1076.5" width="21" height="5" fill="#806068"/><text x="1599.6" y="1071" font-size="15" font-weight="bold" fill="#000" textLength="19" lengthAdjust="spacingAndGlyphs">19</text><rect x="1598.6" y="1076.5" width="21" height="5" fill="#c4c4c4"/><text x="1622.8" y="1071" font-size="15" font-weight="bold" fill="#000" textLength="19" lengthAdjust="spacingAndGlyphs">2<tspan font-family="Liberation Sans">0</tspan></text><rect x="1621.8" y="1076.5" width="21" height="5" fill="#8c8c8c"/></g></svg></body></html>
